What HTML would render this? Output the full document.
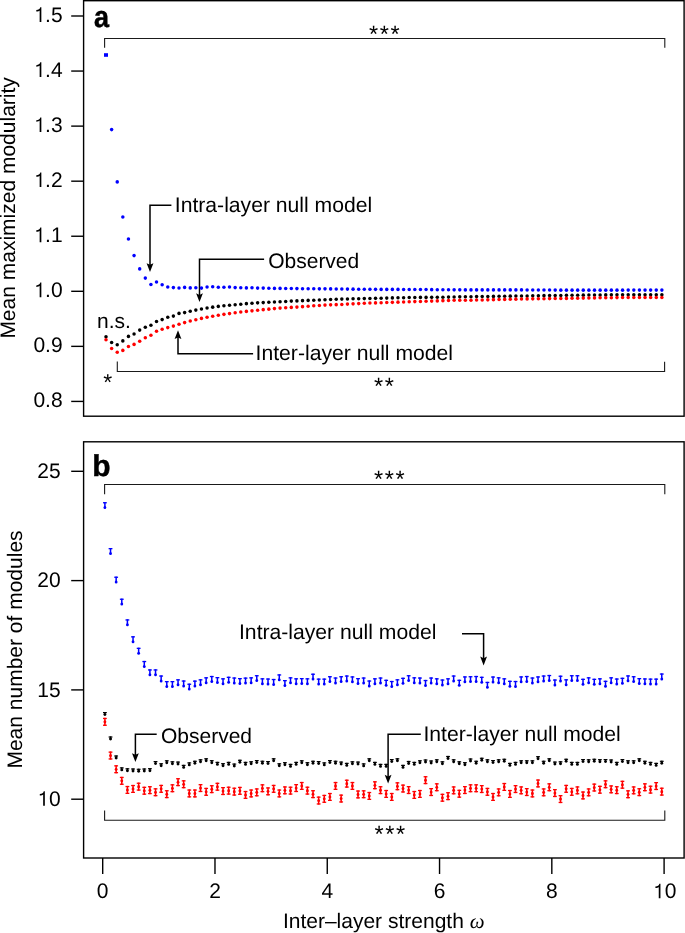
<!DOCTYPE html>
<html><head><meta charset="utf-8"><style>
html,body{margin:0;padding:0;background:#fff;}
svg{display:block;will-change:transform;text-rendering:geometricPrecision;}
</style></head><body>
<svg width="685" height="933" viewBox="0 0 685 933">
<rect width="685" height="933" fill="#fff"/>
<g font-family="'Liberation Sans', sans-serif" font-size="21" fill="#000">
<rect x="83.6" y="0.7" width="600.5" height="415.5" fill="none" stroke="#000" stroke-width="1.4"/>
<rect x="83.6" y="441.8" width="600.5" height="416.2" fill="none" stroke="#000" stroke-width="1.4"/>
<line x1="71.2" y1="16" x2="83.6" y2="16" stroke="#000" stroke-width="1.4"/>
<text x="62.6" y="21.9" text-anchor="end">.5</text>
<path d="M41.35 21.9V7.3H40.25C39.9 9 38.5 9.9 36.3 10.1V11.6C38 11.6 39.1 11.2 39.65 10.5V21.9Z"/>
<line x1="71.2" y1="71.06" x2="83.6" y2="71.06" stroke="#000" stroke-width="1.4"/>
<text x="62.6" y="76.96" text-anchor="end">.4</text>
<path d="M41.35 76.96V62.36H40.25C39.9 64.06 38.5 64.96 36.3 65.16V66.66C38 66.66 39.1 66.26 39.65 65.56V76.96Z"/>
<line x1="71.2" y1="126.12" x2="83.6" y2="126.12" stroke="#000" stroke-width="1.4"/>
<text x="62.6" y="132.02" text-anchor="end">.3</text>
<path d="M41.35 132.02V117.42H40.25C39.9 119.12 38.5 120.02 36.3 120.22V121.72C38 121.72 39.1 121.32 39.65 120.62V132.02Z"/>
<line x1="71.2" y1="181.18" x2="83.6" y2="181.18" stroke="#000" stroke-width="1.4"/>
<text x="62.6" y="187.08" text-anchor="end">.2</text>
<path d="M41.35 187.08V172.48H40.25C39.9 174.18 38.5 175.08 36.3 175.28V176.78C38 176.78 39.1 176.38 39.65 175.68V187.08Z"/>
<line x1="71.2" y1="236.24" x2="83.6" y2="236.24" stroke="#000" stroke-width="1.4"/>
<text x="62.6" y="242.14" text-anchor="end">.1</text>
<path d="M41.35 242.14V227.54H40.25C39.9 229.24 38.5 230.14 36.3 230.34V231.84C38 231.84 39.1 231.44 39.65 230.74V242.14Z"/>
<line x1="71.2" y1="291.3" x2="83.6" y2="291.3" stroke="#000" stroke-width="1.4"/>
<text x="62.6" y="297.2" text-anchor="end">.0</text>
<path d="M41.35 297.2V282.6H40.25C39.9 284.3 38.5 285.2 36.3 285.4V286.9C38 286.9 39.1 286.5 39.65 285.8V297.2Z"/>
<line x1="71.2" y1="346.36" x2="83.6" y2="346.36" stroke="#000" stroke-width="1.4"/>
<text x="62.6" y="352.26" text-anchor="end">0.9</text>
<line x1="71.2" y1="401.42" x2="83.6" y2="401.42" stroke="#000" stroke-width="1.4"/>
<text x="62.6" y="407.32" text-anchor="end">0.8</text>
<line x1="71.2" y1="471.3" x2="83.6" y2="471.3" stroke="#000" stroke-width="1.4"/>
<text x="60.6" y="477.9" text-anchor="end">25</text>
<line x1="71.2" y1="580.6" x2="83.6" y2="580.6" stroke="#000" stroke-width="1.4"/>
<text x="60.6" y="587.2" text-anchor="end">20</text>
<line x1="71.2" y1="689.9" x2="83.6" y2="689.9" stroke="#000" stroke-width="1.4"/>
<text x="60.6" y="696.5" text-anchor="end">15</text>
<line x1="71.2" y1="799.2" x2="83.6" y2="799.2" stroke="#000" stroke-width="1.4"/>
<text x="60.6" y="805.8" text-anchor="end">0</text>
<path d="M44.85 805.8V791.2H43.75C43.4 792.9 42 793.8 39.8 794V795.5C41.5 795.5 42.6 795.1 43.15 794.4V805.8Z"/>
<line x1="102.7" y1="858" x2="102.7" y2="874" stroke="#000" stroke-width="1.4"/>
<text x="102.7" y="898.3" text-anchor="middle">0</text>
<line x1="214.98" y1="858" x2="214.98" y2="874" stroke="#000" stroke-width="1.4"/>
<text x="214.98" y="898.3" text-anchor="middle">2</text>
<line x1="327.26" y1="858" x2="327.26" y2="874" stroke="#000" stroke-width="1.4"/>
<text x="327.26" y="898.3" text-anchor="middle">4</text>
<line x1="439.54" y1="858" x2="439.54" y2="874" stroke="#000" stroke-width="1.4"/>
<text x="439.54" y="898.3" text-anchor="middle">6</text>
<line x1="551.82" y1="858" x2="551.82" y2="874" stroke="#000" stroke-width="1.4"/>
<text x="551.82" y="898.3" text-anchor="middle">8</text>
<line x1="664.1" y1="858" x2="664.1" y2="874" stroke="#000" stroke-width="1.4"/>
<text x="664.8" y="898.3">0</text>
<path d="M660.45 898.3V883.7H659.35C659 885.4 657.6 886.3 655.4 886.5V888C657.1 888 658.2 887.6 658.75 886.9V898.3Z"/>
<text transform="translate(15.1,207.9) rotate(-90)" text-anchor="middle">Mean maximized modularity</text>
<text transform="translate(22.1,649.5) rotate(-90)" text-anchor="middle">Mean number of modules</text>
<text x="383.7" y="927.9" text-anchor="middle">Inter–layer strength <tspan font-family="&apos;Liberation Serif&apos;, serif" font-style="italic">ω</tspan></text>
<text transform="translate(94.1 26.8) scale(0.9 1)" font-weight="bold" font-size="30" stroke="#000" stroke-width="0.45">a</text>
<text x="92.3" y="475.8" font-weight="bold" font-size="30" stroke="#000" stroke-width="0.45">b</text>
<path d="M104.6 47.8V38.5H664.8V47.8" fill="none" stroke="#1a1a1a" stroke-width="1.1"/>
<path d="M117.3 361.5V371.5H664.6V361.8" fill="none" stroke="#1a1a1a" stroke-width="1.1"/>
<path d="M104.6 494.3V484.5H664.8V494.3" fill="none" stroke="#1a1a1a" stroke-width="1.1"/>
<path d="M104.6 810.6V820.2H664.8V810.6" fill="none" stroke="#1a1a1a" stroke-width="1.1"/>
<text x="369" y="42.4" font-size="23.5" letter-spacing="1.6">***</text>
<text x="374.1" y="487.2" font-size="23.5" letter-spacing="1.6">***</text>
<text x="374.4" y="842.3" font-size="23.5" letter-spacing="1.6">***</text>
<text x="103.2" y="389.8" font-size="23">*</text>
<text x="373.9" y="394.3" font-size="23.5" letter-spacing="1.6">**</text>
<text x="97" y="328.2">n.s.</text>
<path d="M171.4 205.2H150V266" fill="none" stroke="#000" stroke-width="1.5"/>
<path d="M150 272L146.6 263.2L150 264.8L153.4 263.2Z" fill="#000"/>
<text x="174.8" y="211.6" font-size="21.15">Intra-layer null model</text>
<path d="M264.1 259.3H199.5V296" fill="none" stroke="#000" stroke-width="1.5"/>
<path d="M199.5 302.1L196.1 293.3L199.5 294.9L202.9 293.3Z" fill="#000"/>
<text x="268.2" y="267.6">Observed</text>
<path d="M253.1 353.7H178V336" fill="none" stroke="#000" stroke-width="1.5"/>
<path d="M178 330.3L174.6 339.1L178 337.5L181.4 339.1Z" fill="#000"/>
<text x="255.6" y="359.8" font-size="21.15">Inter-layer null model</text>
<path d="M462 633.7H483.6V660" fill="none" stroke="#000" stroke-width="1.5"/>
<path d="M483.6 665.4L480.2 656.6L483.6 658.2L487 656.6Z" fill="#000"/>
<text x="239.0" y="638.8" font-size="21.15">Intra-layer null model</text>
<path d="M156.7 734.3H135.4V756" fill="none" stroke="#000" stroke-width="1.5"/>
<path d="M135.4 762L132 753.2L135.4 754.8L138.8 753.2Z" fill="#000"/>
<text x="161" y="743.1">Observed</text>
<path d="M420.8 734.3H388.1V778" fill="none" stroke="#000" stroke-width="1.5"/>
<path d="M388.1 783.6L384.7 774.8L388.1 776.4L391.5 774.8Z" fill="#000"/>
<text x="423.4" y="740.5" font-size="21.15">Inter-layer null model</text>
</g>
<g fill="#00f"><rect x="104" y="53.2" width="4" height="3.6"/><ellipse cx="111.61" cy="129.6" rx="1.75" ry="1.8"/><ellipse cx="117.23" cy="181.9" rx="1.75" ry="1.8"/><ellipse cx="122.84" cy="217" rx="1.75" ry="1.8"/><ellipse cx="128.46" cy="239" rx="1.75" ry="1.8"/><ellipse cx="134.07" cy="255.6" rx="1.75" ry="1.8"/><ellipse cx="139.69" cy="268.9" rx="1.75" ry="1.8"/><ellipse cx="145.31" cy="278.1" rx="1.75" ry="1.8"/><ellipse cx="150.92" cy="284.5" rx="1.75" ry="1.8"/><ellipse cx="156.53" cy="282" rx="1.75" ry="1.8"/><ellipse cx="162.15" cy="284.7" rx="1.75" ry="1.8"/><ellipse cx="167.76" cy="287" rx="1.75" ry="1.8"/><ellipse cx="173.38" cy="287.6" rx="1.75" ry="1.8"/><ellipse cx="179" cy="288" rx="1.75" ry="1.8"/><ellipse cx="184.61" cy="287.4" rx="1.75" ry="1.8"/><ellipse cx="190.23" cy="287.9" rx="1.75" ry="1.8"/><ellipse cx="195.84" cy="287.7" rx="1.75" ry="1.8"/><ellipse cx="201.45" cy="288.1" rx="1.75" ry="1.8"/><ellipse cx="207.07" cy="287" rx="1.75" ry="1.8"/><ellipse cx="212.69" cy="286.7" rx="1.75" ry="1.8"/><ellipse cx="218.3" cy="287.2" rx="1.75" ry="1.8"/><ellipse cx="223.92" cy="287.2" rx="1.75" ry="1.8"/><ellipse cx="229.53" cy="287" rx="1.75" ry="1.8"/><ellipse cx="235.15" cy="287.6" rx="1.75" ry="1.8"/><ellipse cx="240.76" cy="287.7" rx="1.75" ry="1.8"/><ellipse cx="246.38" cy="287.9" rx="1.75" ry="1.8"/><ellipse cx="251.99" cy="287.7" rx="1.75" ry="1.8"/><ellipse cx="257.61" cy="288.1" rx="1.75" ry="1.8"/><ellipse cx="263.22" cy="288.1" rx="1.75" ry="1.8"/><ellipse cx="268.84" cy="288.3" rx="1.75" ry="1.8"/><ellipse cx="274.45" cy="288.38" rx="1.75" ry="1.8"/><ellipse cx="280.06" cy="288.4" rx="1.75" ry="1.8"/><ellipse cx="285.68" cy="288.5" rx="1.75" ry="1.8"/><ellipse cx="291.3" cy="288.54" rx="1.75" ry="1.8"/><ellipse cx="296.91" cy="288.61" rx="1.75" ry="1.8"/><ellipse cx="302.52" cy="288.69" rx="1.75" ry="1.8"/><ellipse cx="308.14" cy="288.73" rx="1.75" ry="1.8"/><ellipse cx="313.75" cy="288.76" rx="1.75" ry="1.8"/><ellipse cx="319.37" cy="288.83" rx="1.75" ry="1.8"/><ellipse cx="324.99" cy="288.87" rx="1.75" ry="1.8"/><ellipse cx="330.6" cy="288.91" rx="1.75" ry="1.8"/><ellipse cx="336.22" cy="288.94" rx="1.75" ry="1.8"/><ellipse cx="341.83" cy="289" rx="1.75" ry="1.8"/><ellipse cx="347.45" cy="289.09" rx="1.75" ry="1.8"/><ellipse cx="353.06" cy="289.14" rx="1.75" ry="1.8"/><ellipse cx="358.68" cy="289.2" rx="1.75" ry="1.8"/><ellipse cx="364.29" cy="289.24" rx="1.75" ry="1.8"/><ellipse cx="369.91" cy="289.31" rx="1.75" ry="1.8"/><ellipse cx="375.52" cy="289.37" rx="1.75" ry="1.8"/><ellipse cx="381.13" cy="289.39" rx="1.75" ry="1.8"/><ellipse cx="386.75" cy="289.38" rx="1.75" ry="1.8"/><ellipse cx="392.37" cy="289.38" rx="1.75" ry="1.8"/><ellipse cx="397.98" cy="289.4" rx="1.75" ry="1.8"/><ellipse cx="403.6" cy="289.43" rx="1.75" ry="1.8"/><ellipse cx="409.21" cy="289.45" rx="1.75" ry="1.8"/><ellipse cx="414.82" cy="289.48" rx="1.75" ry="1.8"/><ellipse cx="420.44" cy="289.51" rx="1.75" ry="1.8"/><ellipse cx="426.06" cy="289.54" rx="1.75" ry="1.8"/><ellipse cx="431.67" cy="289.63" rx="1.75" ry="1.8"/><ellipse cx="437.29" cy="289.68" rx="1.75" ry="1.8"/><ellipse cx="442.9" cy="289.73" rx="1.75" ry="1.8"/><ellipse cx="448.51" cy="289.78" rx="1.75" ry="1.8"/><ellipse cx="454.13" cy="289.83" rx="1.75" ry="1.8"/><ellipse cx="459.75" cy="289.87" rx="1.75" ry="1.8"/><ellipse cx="465.36" cy="289.92" rx="1.75" ry="1.8"/><ellipse cx="470.98" cy="289.92" rx="1.75" ry="1.8"/><ellipse cx="476.59" cy="289.91" rx="1.75" ry="1.8"/><ellipse cx="482.21" cy="289.91" rx="1.75" ry="1.8"/><ellipse cx="487.82" cy="289.9" rx="1.75" ry="1.8"/><ellipse cx="493.44" cy="289.9" rx="1.75" ry="1.8"/><ellipse cx="499.05" cy="289.9" rx="1.75" ry="1.8"/><ellipse cx="504.67" cy="289.9" rx="1.75" ry="1.8"/><ellipse cx="510.28" cy="289.9" rx="1.75" ry="1.8"/><ellipse cx="515.89" cy="289.9" rx="1.75" ry="1.8"/><ellipse cx="521.51" cy="289.9" rx="1.75" ry="1.8"/><ellipse cx="527.12" cy="289.93" rx="1.75" ry="1.8"/><ellipse cx="532.74" cy="289.96" rx="1.75" ry="1.8"/><ellipse cx="538.36" cy="290" rx="1.75" ry="1.8"/><ellipse cx="543.97" cy="290.04" rx="1.75" ry="1.8"/><ellipse cx="549.59" cy="290.07" rx="1.75" ry="1.8"/><ellipse cx="555.2" cy="290.11" rx="1.75" ry="1.8"/><ellipse cx="560.82" cy="290.14" rx="1.75" ry="1.8"/><ellipse cx="566.43" cy="290.15" rx="1.75" ry="1.8"/><ellipse cx="572.05" cy="290.15" rx="1.75" ry="1.8"/><ellipse cx="577.66" cy="290.15" rx="1.75" ry="1.8"/><ellipse cx="583.28" cy="290.15" rx="1.75" ry="1.8"/><ellipse cx="588.89" cy="290.15" rx="1.75" ry="1.8"/><ellipse cx="594.5" cy="290.15" rx="1.75" ry="1.8"/><ellipse cx="600.12" cy="290.15" rx="1.75" ry="1.8"/><ellipse cx="605.74" cy="290.15" rx="1.75" ry="1.8"/><ellipse cx="611.35" cy="290.14" rx="1.75" ry="1.8"/><ellipse cx="616.97" cy="290.14" rx="1.75" ry="1.8"/><ellipse cx="622.58" cy="290.13" rx="1.75" ry="1.8"/><ellipse cx="628.2" cy="290.12" rx="1.75" ry="1.8"/><ellipse cx="633.81" cy="290.11" rx="1.75" ry="1.8"/><ellipse cx="639.43" cy="290.11" rx="1.75" ry="1.8"/><ellipse cx="645.04" cy="290.1" rx="1.75" ry="1.8"/><ellipse cx="650.65" cy="290.1" rx="1.75" ry="1.8"/><ellipse cx="656.27" cy="290.1" rx="1.75" ry="1.8"/><ellipse cx="661.88" cy="290.1" rx="1.75" ry="1.8"/></g>
<g fill="#000"><ellipse cx="106" cy="336.8" rx="1.75" ry="1.8"/><ellipse cx="111.61" cy="342.5" rx="1.75" ry="1.8"/><ellipse cx="117.23" cy="344.7" rx="1.75" ry="1.8"/><ellipse cx="122.84" cy="340.9" rx="1.75" ry="1.8"/><ellipse cx="128.46" cy="336.4" rx="1.75" ry="1.8"/><ellipse cx="134.07" cy="334" rx="1.75" ry="1.8"/><ellipse cx="139.69" cy="330.1" rx="1.75" ry="1.8"/><ellipse cx="145.31" cy="327.2" rx="1.75" ry="1.8"/><ellipse cx="150.92" cy="325.2" rx="1.75" ry="1.8"/><ellipse cx="156.53" cy="321.5" rx="1.75" ry="1.8"/><ellipse cx="162.15" cy="319.6" rx="1.75" ry="1.8"/><ellipse cx="167.76" cy="317.2" rx="1.75" ry="1.8"/><ellipse cx="173.38" cy="316.1" rx="1.75" ry="1.8"/><ellipse cx="179" cy="313.4" rx="1.75" ry="1.8"/><ellipse cx="184.61" cy="312.6" rx="1.75" ry="1.8"/><ellipse cx="190.23" cy="311.22" rx="1.75" ry="1.8"/><ellipse cx="195.84" cy="310.1" rx="1.75" ry="1.8"/><ellipse cx="201.45" cy="309.02" rx="1.75" ry="1.8"/><ellipse cx="207.07" cy="308.04" rx="1.75" ry="1.8"/><ellipse cx="212.69" cy="307.14" rx="1.75" ry="1.8"/><ellipse cx="218.3" cy="306.38" rx="1.75" ry="1.8"/><ellipse cx="223.92" cy="305.78" rx="1.75" ry="1.8"/><ellipse cx="229.53" cy="305.2" rx="1.75" ry="1.8"/><ellipse cx="235.15" cy="304.68" rx="1.75" ry="1.8"/><ellipse cx="240.76" cy="304.18" rx="1.75" ry="1.8"/><ellipse cx="246.38" cy="303.66" rx="1.75" ry="1.8"/><ellipse cx="251.99" cy="303.2" rx="1.75" ry="1.8"/><ellipse cx="257.61" cy="302.84" rx="1.75" ry="1.8"/><ellipse cx="263.22" cy="302.6" rx="1.75" ry="1.8"/><ellipse cx="268.84" cy="302.32" rx="1.75" ry="1.8"/><ellipse cx="274.45" cy="302.06" rx="1.75" ry="1.8"/><ellipse cx="280.06" cy="301.8" rx="1.75" ry="1.8"/><ellipse cx="285.68" cy="301.46" rx="1.75" ry="1.8"/><ellipse cx="291.3" cy="301.12" rx="1.75" ry="1.8"/><ellipse cx="296.91" cy="300.9" rx="1.75" ry="1.8"/><ellipse cx="302.52" cy="300.66" rx="1.75" ry="1.8"/><ellipse cx="308.14" cy="300.42" rx="1.75" ry="1.8"/><ellipse cx="313.75" cy="300.2" rx="1.75" ry="1.8"/><ellipse cx="319.37" cy="299.96" rx="1.75" ry="1.8"/><ellipse cx="324.99" cy="299.76" rx="1.75" ry="1.8"/><ellipse cx="330.6" cy="299.52" rx="1.75" ry="1.8"/><ellipse cx="336.22" cy="299.28" rx="1.75" ry="1.8"/><ellipse cx="341.83" cy="299.08" rx="1.75" ry="1.8"/><ellipse cx="347.45" cy="298.94" rx="1.75" ry="1.8"/><ellipse cx="353.06" cy="298.78" rx="1.75" ry="1.8"/><ellipse cx="358.68" cy="298.68" rx="1.75" ry="1.8"/><ellipse cx="364.29" cy="298.6" rx="1.75" ry="1.8"/><ellipse cx="369.91" cy="298.5" rx="1.75" ry="1.8"/><ellipse cx="375.52" cy="298.36" rx="1.75" ry="1.8"/><ellipse cx="381.13" cy="298.26" rx="1.75" ry="1.8"/><ellipse cx="386.75" cy="298.09" rx="1.75" ry="1.8"/><ellipse cx="392.37" cy="297.91" rx="1.75" ry="1.8"/><ellipse cx="397.98" cy="297.78" rx="1.75" ry="1.8"/><ellipse cx="403.6" cy="297.68" rx="1.75" ry="1.8"/><ellipse cx="409.21" cy="297.56" rx="1.75" ry="1.8"/><ellipse cx="414.82" cy="297.47" rx="1.75" ry="1.8"/><ellipse cx="420.44" cy="297.42" rx="1.75" ry="1.8"/><ellipse cx="426.06" cy="297.38" rx="1.75" ry="1.8"/><ellipse cx="431.67" cy="297.33" rx="1.75" ry="1.8"/><ellipse cx="437.29" cy="297.26" rx="1.75" ry="1.8"/><ellipse cx="442.9" cy="297.19" rx="1.75" ry="1.8"/><ellipse cx="448.51" cy="297.12" rx="1.75" ry="1.8"/><ellipse cx="454.13" cy="297" rx="1.75" ry="1.8"/><ellipse cx="459.75" cy="296.86" rx="1.75" ry="1.8"/><ellipse cx="465.36" cy="296.77" rx="1.75" ry="1.8"/><ellipse cx="470.98" cy="296.72" rx="1.75" ry="1.8"/><ellipse cx="476.59" cy="296.61" rx="1.75" ry="1.8"/><ellipse cx="482.21" cy="296.54" rx="1.75" ry="1.8"/><ellipse cx="487.82" cy="296.49" rx="1.75" ry="1.8"/><ellipse cx="493.44" cy="296.42" rx="1.75" ry="1.8"/><ellipse cx="499.05" cy="296.3" rx="1.75" ry="1.8"/><ellipse cx="504.67" cy="296.26" rx="1.75" ry="1.8"/><ellipse cx="510.28" cy="296.14" rx="1.75" ry="1.8"/><ellipse cx="515.89" cy="296.07" rx="1.75" ry="1.8"/><ellipse cx="521.51" cy="296" rx="1.75" ry="1.8"/><ellipse cx="527.12" cy="295.93" rx="1.75" ry="1.8"/><ellipse cx="532.74" cy="295.81" rx="1.75" ry="1.8"/><ellipse cx="538.36" cy="295.77" rx="1.75" ry="1.8"/><ellipse cx="543.97" cy="295.65" rx="1.75" ry="1.8"/><ellipse cx="549.59" cy="295.53" rx="1.75" ry="1.8"/><ellipse cx="555.2" cy="295.46" rx="1.75" ry="1.8"/><ellipse cx="560.82" cy="295.44" rx="1.75" ry="1.8"/><ellipse cx="566.43" cy="295.37" rx="1.75" ry="1.8"/><ellipse cx="572.05" cy="295.32" rx="1.75" ry="1.8"/><ellipse cx="577.66" cy="295.23" rx="1.75" ry="1.8"/><ellipse cx="583.28" cy="295.14" rx="1.75" ry="1.8"/><ellipse cx="588.89" cy="295.04" rx="1.75" ry="1.8"/><ellipse cx="594.5" cy="295" rx="1.75" ry="1.8"/><ellipse cx="600.12" cy="294.95" rx="1.75" ry="1.8"/><ellipse cx="605.74" cy="294.88" rx="1.75" ry="1.8"/><ellipse cx="611.35" cy="294.86" rx="1.75" ry="1.8"/><ellipse cx="616.97" cy="294.83" rx="1.75" ry="1.8"/><ellipse cx="622.58" cy="294.8" rx="1.75" ry="1.8"/><ellipse cx="628.2" cy="294.77" rx="1.75" ry="1.8"/><ellipse cx="633.81" cy="294.81" rx="1.75" ry="1.8"/><ellipse cx="639.43" cy="294.8" rx="1.75" ry="1.8"/><ellipse cx="645.04" cy="294.8" rx="1.75" ry="1.8"/><ellipse cx="650.65" cy="294.8" rx="1.75" ry="1.8"/><ellipse cx="656.27" cy="294.8" rx="1.75" ry="1.8"/><ellipse cx="661.88" cy="294.8" rx="1.75" ry="1.8"/></g>
<g fill="#f00"><ellipse cx="106" cy="339.7" rx="1.75" ry="1.8"/><ellipse cx="111.61" cy="348.5" rx="1.75" ry="1.8"/><ellipse cx="117.23" cy="352.2" rx="1.75" ry="1.8"/><ellipse cx="122.84" cy="350.4" rx="1.75" ry="1.8"/><ellipse cx="128.46" cy="346.5" rx="1.75" ry="1.8"/><ellipse cx="134.07" cy="344.4" rx="1.75" ry="1.8"/><ellipse cx="139.69" cy="341.2" rx="1.75" ry="1.8"/><ellipse cx="145.31" cy="337.7" rx="1.75" ry="1.8"/><ellipse cx="150.92" cy="335.2" rx="1.75" ry="1.8"/><ellipse cx="156.53" cy="331.3" rx="1.75" ry="1.8"/><ellipse cx="162.15" cy="329.3" rx="1.75" ry="1.8"/><ellipse cx="167.76" cy="327.6" rx="1.75" ry="1.8"/><ellipse cx="173.38" cy="326.1" rx="1.75" ry="1.8"/><ellipse cx="179" cy="324.2" rx="1.75" ry="1.8"/><ellipse cx="184.61" cy="322.58" rx="1.75" ry="1.8"/><ellipse cx="190.23" cy="321.04" rx="1.75" ry="1.8"/><ellipse cx="195.84" cy="319.68" rx="1.75" ry="1.8"/><ellipse cx="201.45" cy="318.4" rx="1.75" ry="1.8"/><ellipse cx="207.07" cy="317.26" rx="1.75" ry="1.8"/><ellipse cx="212.69" cy="316.26" rx="1.75" ry="1.8"/><ellipse cx="218.3" cy="315.26" rx="1.75" ry="1.8"/><ellipse cx="223.92" cy="314.36" rx="1.75" ry="1.8"/><ellipse cx="229.53" cy="313.6" rx="1.75" ry="1.8"/><ellipse cx="235.15" cy="312.78" rx="1.75" ry="1.8"/><ellipse cx="240.76" cy="312" rx="1.75" ry="1.8"/><ellipse cx="246.38" cy="311.42" rx="1.75" ry="1.8"/><ellipse cx="251.99" cy="310.84" rx="1.75" ry="1.8"/><ellipse cx="257.61" cy="310.2" rx="1.75" ry="1.8"/><ellipse cx="263.22" cy="309.64" rx="1.75" ry="1.8"/><ellipse cx="268.84" cy="309.14" rx="1.75" ry="1.8"/><ellipse cx="274.45" cy="308.6" rx="1.75" ry="1.8"/><ellipse cx="280.06" cy="308.12" rx="1.75" ry="1.8"/><ellipse cx="285.68" cy="307.74" rx="1.75" ry="1.8"/><ellipse cx="291.3" cy="307.38" rx="1.75" ry="1.8"/><ellipse cx="296.91" cy="307.08" rx="1.75" ry="1.8"/><ellipse cx="302.52" cy="306.64" rx="1.75" ry="1.8"/><ellipse cx="308.14" cy="306.2" rx="1.75" ry="1.8"/><ellipse cx="313.75" cy="305.82" rx="1.75" ry="1.8"/><ellipse cx="319.37" cy="305.52" rx="1.75" ry="1.8"/><ellipse cx="324.99" cy="305.12" rx="1.75" ry="1.8"/><ellipse cx="330.6" cy="304.86" rx="1.75" ry="1.8"/><ellipse cx="336.22" cy="304.64" rx="1.75" ry="1.8"/><ellipse cx="341.83" cy="304.44" rx="1.75" ry="1.8"/><ellipse cx="347.45" cy="304.12" rx="1.75" ry="1.8"/><ellipse cx="353.06" cy="303.86" rx="1.75" ry="1.8"/><ellipse cx="358.68" cy="303.6" rx="1.75" ry="1.8"/><ellipse cx="364.29" cy="303.32" rx="1.75" ry="1.8"/><ellipse cx="369.91" cy="303.06" rx="1.75" ry="1.8"/><ellipse cx="375.52" cy="302.88" rx="1.75" ry="1.8"/><ellipse cx="381.13" cy="302.7" rx="1.75" ry="1.8"/><ellipse cx="386.75" cy="302.54" rx="1.75" ry="1.8"/><ellipse cx="392.37" cy="302.33" rx="1.75" ry="1.8"/><ellipse cx="397.98" cy="302.13" rx="1.75" ry="1.8"/><ellipse cx="403.6" cy="301.95" rx="1.75" ry="1.8"/><ellipse cx="409.21" cy="301.77" rx="1.75" ry="1.8"/><ellipse cx="414.82" cy="301.61" rx="1.75" ry="1.8"/><ellipse cx="420.44" cy="301.44" rx="1.75" ry="1.8"/><ellipse cx="426.06" cy="301.28" rx="1.75" ry="1.8"/><ellipse cx="431.67" cy="301.09" rx="1.75" ry="1.8"/><ellipse cx="437.29" cy="300.91" rx="1.75" ry="1.8"/><ellipse cx="442.9" cy="300.67" rx="1.75" ry="1.8"/><ellipse cx="448.51" cy="300.51" rx="1.75" ry="1.8"/><ellipse cx="454.13" cy="300.32" rx="1.75" ry="1.8"/><ellipse cx="459.75" cy="300.2" rx="1.75" ry="1.8"/><ellipse cx="465.36" cy="300.2" rx="1.75" ry="1.8"/><ellipse cx="470.98" cy="300.18" rx="1.75" ry="1.8"/><ellipse cx="476.59" cy="300.06" rx="1.75" ry="1.8"/><ellipse cx="482.21" cy="299.97" rx="1.75" ry="1.8"/><ellipse cx="487.82" cy="299.85" rx="1.75" ry="1.8"/><ellipse cx="493.44" cy="299.67" rx="1.75" ry="1.8"/><ellipse cx="499.05" cy="299.5" rx="1.75" ry="1.8"/><ellipse cx="504.67" cy="299.39" rx="1.75" ry="1.8"/><ellipse cx="510.28" cy="299.27" rx="1.75" ry="1.8"/><ellipse cx="515.89" cy="299.15" rx="1.75" ry="1.8"/><ellipse cx="521.51" cy="299.04" rx="1.75" ry="1.8"/><ellipse cx="527.12" cy="298.92" rx="1.75" ry="1.8"/><ellipse cx="532.74" cy="298.85" rx="1.75" ry="1.8"/><ellipse cx="538.36" cy="298.78" rx="1.75" ry="1.8"/><ellipse cx="543.97" cy="298.73" rx="1.75" ry="1.8"/><ellipse cx="549.59" cy="298.62" rx="1.75" ry="1.8"/><ellipse cx="555.2" cy="298.55" rx="1.75" ry="1.8"/><ellipse cx="560.82" cy="298.48" rx="1.75" ry="1.8"/><ellipse cx="566.43" cy="298.41" rx="1.75" ry="1.8"/><ellipse cx="572.05" cy="298.29" rx="1.75" ry="1.8"/><ellipse cx="577.66" cy="298.2" rx="1.75" ry="1.8"/><ellipse cx="583.28" cy="298.1" rx="1.75" ry="1.8"/><ellipse cx="588.89" cy="298.01" rx="1.75" ry="1.8"/><ellipse cx="594.5" cy="297.89" rx="1.75" ry="1.8"/><ellipse cx="600.12" cy="297.82" rx="1.75" ry="1.8"/><ellipse cx="605.74" cy="297.75" rx="1.75" ry="1.8"/><ellipse cx="611.35" cy="297.68" rx="1.75" ry="1.8"/><ellipse cx="616.97" cy="297.61" rx="1.75" ry="1.8"/><ellipse cx="622.58" cy="297.56" rx="1.75" ry="1.8"/><ellipse cx="628.2" cy="297.51" rx="1.75" ry="1.8"/><ellipse cx="633.81" cy="297.5" rx="1.75" ry="1.8"/><ellipse cx="639.43" cy="297.5" rx="1.75" ry="1.8"/><ellipse cx="645.04" cy="297.5" rx="1.75" ry="1.8"/><ellipse cx="650.65" cy="297.5" rx="1.75" ry="1.8"/><ellipse cx="656.27" cy="297.5" rx="1.75" ry="1.8"/><ellipse cx="661.88" cy="297.5" rx="1.75" ry="1.8"/></g>
<g fill="#00f"><rect x="103" y="502.1" width="3.8" height="1.3"/><rect x="104.15" y="502.1" width="1.5" height="5.5"/><ellipse cx="104.9" cy="507.6" rx="1.4" ry="1.5"/><rect x="108.62" y="548" width="3.8" height="1.3"/><rect x="109.78" y="548" width="1.5" height="5.5"/><ellipse cx="110.53" cy="553.5" rx="1.4" ry="1.5"/><rect x="114.25" y="576.6" width="3.8" height="1.3"/><rect x="115.4" y="576.6" width="1.5" height="5.5"/><ellipse cx="116.15" cy="582.1" rx="1.4" ry="1.5"/><rect x="119.88" y="598.6" width="3.8" height="1.3"/><rect x="121.03" y="598.6" width="1.5" height="5.5"/><ellipse cx="121.78" cy="604.1" rx="1.4" ry="1.5"/><rect x="125.5" y="619.3" width="3.8" height="1.3"/><rect x="126.65" y="619.3" width="1.5" height="5.5"/><ellipse cx="127.4" cy="624.8" rx="1.4" ry="1.5"/><rect x="131.12" y="636.2" width="3.8" height="1.3"/><rect x="132.28" y="636.2" width="1.5" height="5.5"/><ellipse cx="133.03" cy="641.7" rx="1.4" ry="1.5"/><rect x="136.75" y="647.7" width="3.8" height="1.3"/><rect x="137.9" y="647.7" width="1.5" height="5.5"/><ellipse cx="138.65" cy="653.2" rx="1.4" ry="1.5"/><rect x="142.38" y="660.9" width="3.8" height="1.3"/><rect x="143.53" y="660.9" width="1.5" height="5.5"/><ellipse cx="144.28" cy="666.4" rx="1.4" ry="1.5"/><rect x="148" y="669.3" width="3.8" height="1.3"/><rect x="149.15" y="669.3" width="1.5" height="5.5"/><ellipse cx="149.9" cy="674.8" rx="1.4" ry="1.5"/><rect x="153.62" y="669.3" width="3.8" height="1.3"/><rect x="154.78" y="669.3" width="1.5" height="5.5"/><ellipse cx="155.53" cy="674.8" rx="1.4" ry="1.5"/><rect x="159.25" y="675.4" width="3.8" height="1.3"/><rect x="160.4" y="675.4" width="1.5" height="5.5"/><ellipse cx="161.15" cy="680.9" rx="1.4" ry="1.5"/><rect x="164.88" y="681" width="3.8" height="1.3"/><rect x="166.03" y="681" width="1.5" height="5.5"/><ellipse cx="166.78" cy="686.5" rx="1.4" ry="1.5"/><rect x="170.5" y="681" width="3.8" height="1.3"/><rect x="171.65" y="681" width="1.5" height="5.5"/><ellipse cx="172.4" cy="686.5" rx="1.4" ry="1.5"/><rect x="176.12" y="679.2" width="3.8" height="1.3"/><rect x="177.28" y="679.2" width="1.5" height="5.5"/><ellipse cx="178.03" cy="684.7" rx="1.4" ry="1.5"/><rect x="181.75" y="680.4" width="3.8" height="1.3"/><rect x="182.9" y="680.4" width="1.5" height="5.5"/><ellipse cx="183.65" cy="685.9" rx="1.4" ry="1.5"/><rect x="187.38" y="683.6" width="3.8" height="1.3"/><rect x="188.53" y="683.6" width="1.5" height="5.5"/><ellipse cx="189.28" cy="689.1" rx="1.4" ry="1.5"/><rect x="193" y="680.5" width="3.8" height="1.3"/><rect x="194.15" y="680.5" width="1.5" height="5.5"/><ellipse cx="194.9" cy="686" rx="1.4" ry="1.5"/><rect x="198.62" y="679.2" width="3.8" height="1.3"/><rect x="199.78" y="679.2" width="1.5" height="5.5"/><ellipse cx="200.53" cy="684.7" rx="1.4" ry="1.5"/><rect x="204.25" y="677.2" width="3.8" height="1.3"/><rect x="205.4" y="677.2" width="1.5" height="5.5"/><ellipse cx="206.15" cy="682.7" rx="1.4" ry="1.5"/><rect x="209.88" y="675.9" width="3.8" height="1.3"/><rect x="211.03" y="675.9" width="1.5" height="5.5"/><ellipse cx="211.78" cy="681.4" rx="1.4" ry="1.5"/><rect x="215.5" y="677" width="3.8" height="1.3"/><rect x="216.65" y="677" width="1.5" height="5.5"/><ellipse cx="217.4" cy="682.5" rx="1.4" ry="1.5"/><rect x="221.12" y="678.2" width="3.8" height="1.3"/><rect x="222.28" y="678.2" width="1.5" height="5.5"/><ellipse cx="223.03" cy="683.7" rx="1.4" ry="1.5"/><rect x="226.75" y="676.7" width="3.8" height="1.3"/><rect x="227.9" y="676.7" width="1.5" height="5.5"/><ellipse cx="228.65" cy="682.2" rx="1.4" ry="1.5"/><rect x="232.38" y="677.4" width="3.8" height="1.3"/><rect x="233.53" y="677.4" width="1.5" height="5.5"/><ellipse cx="234.28" cy="682.9" rx="1.4" ry="1.5"/><rect x="238" y="678" width="3.8" height="1.3"/><rect x="239.15" y="678" width="1.5" height="5.5"/><ellipse cx="239.9" cy="683.5" rx="1.4" ry="1.5"/><rect x="243.62" y="677.5" width="3.8" height="1.3"/><rect x="244.78" y="677.5" width="1.5" height="5.5"/><ellipse cx="245.53" cy="683" rx="1.4" ry="1.5"/><rect x="249.25" y="677.2" width="3.8" height="1.3"/><rect x="250.4" y="677.2" width="1.5" height="5.5"/><ellipse cx="251.15" cy="682.7" rx="1.4" ry="1.5"/><rect x="254.87" y="675.1" width="3.8" height="1.3"/><rect x="256.02" y="675.1" width="1.5" height="5.5"/><ellipse cx="256.77" cy="680.6" rx="1.4" ry="1.5"/><rect x="260.5" y="678.2" width="3.8" height="1.3"/><rect x="261.65" y="678.2" width="1.5" height="5.5"/><ellipse cx="262.4" cy="683.7" rx="1.4" ry="1.5"/><rect x="266.12" y="678.4" width="3.8" height="1.3"/><rect x="267.27" y="678.4" width="1.5" height="5.5"/><ellipse cx="268.02" cy="683.9" rx="1.4" ry="1.5"/><rect x="271.75" y="678.9" width="3.8" height="1.3"/><rect x="272.9" y="678.9" width="1.5" height="5.5"/><ellipse cx="273.65" cy="684.4" rx="1.4" ry="1.5"/><rect x="277.38" y="674.3" width="3.8" height="1.3"/><rect x="278.52" y="674.3" width="1.5" height="5.5"/><ellipse cx="279.27" cy="679.8" rx="1.4" ry="1.5"/><rect x="283" y="680" width="3.8" height="1.3"/><rect x="284.15" y="680" width="1.5" height="5.5"/><ellipse cx="284.9" cy="685.5" rx="1.4" ry="1.5"/><rect x="288.62" y="677.2" width="3.8" height="1.3"/><rect x="289.77" y="677.2" width="1.5" height="5.5"/><ellipse cx="290.52" cy="682.7" rx="1.4" ry="1.5"/><rect x="294.25" y="678.2" width="3.8" height="1.3"/><rect x="295.4" y="678.2" width="1.5" height="5.5"/><ellipse cx="296.15" cy="683.7" rx="1.4" ry="1.5"/><rect x="299.88" y="678" width="3.8" height="1.3"/><rect x="301.02" y="678" width="1.5" height="5.5"/><ellipse cx="301.77" cy="683.5" rx="1.4" ry="1.5"/><rect x="305.5" y="678.2" width="3.8" height="1.3"/><rect x="306.65" y="678.2" width="1.5" height="5.5"/><ellipse cx="307.4" cy="683.7" rx="1.4" ry="1.5"/><rect x="311.12" y="673.6" width="3.8" height="1.3"/><rect x="312.27" y="673.6" width="1.5" height="5.5"/><ellipse cx="313.02" cy="679.1" rx="1.4" ry="1.5"/><rect x="316.75" y="678.5" width="3.8" height="1.3"/><rect x="317.9" y="678.5" width="1.5" height="5.5"/><ellipse cx="318.65" cy="684" rx="1.4" ry="1.5"/><rect x="322.38" y="678.5" width="3.8" height="1.3"/><rect x="323.52" y="678.5" width="1.5" height="5.5"/><ellipse cx="324.27" cy="684" rx="1.4" ry="1.5"/><rect x="328" y="676.1" width="3.8" height="1.3"/><rect x="329.15" y="676.1" width="1.5" height="5.5"/><ellipse cx="329.9" cy="681.6" rx="1.4" ry="1.5"/><rect x="333.62" y="677.4" width="3.8" height="1.3"/><rect x="334.77" y="677.4" width="1.5" height="5.5"/><ellipse cx="335.52" cy="682.9" rx="1.4" ry="1.5"/><rect x="339.25" y="676.1" width="3.8" height="1.3"/><rect x="340.4" y="676.1" width="1.5" height="5.5"/><ellipse cx="341.15" cy="681.6" rx="1.4" ry="1.5"/><rect x="344.88" y="675.4" width="3.8" height="1.3"/><rect x="346.02" y="675.4" width="1.5" height="5.5"/><ellipse cx="346.77" cy="680.9" rx="1.4" ry="1.5"/><rect x="350.5" y="676.3" width="3.8" height="1.3"/><rect x="351.65" y="676.3" width="1.5" height="5.5"/><ellipse cx="352.4" cy="681.8" rx="1.4" ry="1.5"/><rect x="356.12" y="678" width="3.8" height="1.3"/><rect x="357.27" y="678" width="1.5" height="5.5"/><ellipse cx="358.02" cy="683.5" rx="1.4" ry="1.5"/><rect x="361.75" y="677.4" width="3.8" height="1.3"/><rect x="362.9" y="677.4" width="1.5" height="5.5"/><ellipse cx="363.65" cy="682.9" rx="1.4" ry="1.5"/><rect x="367.38" y="680.4" width="3.8" height="1.3"/><rect x="368.52" y="680.4" width="1.5" height="5.5"/><ellipse cx="369.27" cy="685.9" rx="1.4" ry="1.5"/><rect x="373" y="678.2" width="3.8" height="1.3"/><rect x="374.15" y="678.2" width="1.5" height="5.5"/><ellipse cx="374.9" cy="683.7" rx="1.4" ry="1.5"/><rect x="378.62" y="677.4" width="3.8" height="1.3"/><rect x="379.77" y="677.4" width="1.5" height="5.5"/><ellipse cx="380.52" cy="682.9" rx="1.4" ry="1.5"/><rect x="384.25" y="679.7" width="3.8" height="1.3"/><rect x="385.4" y="679.7" width="1.5" height="5.5"/><ellipse cx="386.15" cy="685.2" rx="1.4" ry="1.5"/><rect x="389.88" y="680.9" width="3.8" height="1.3"/><rect x="391.02" y="680.9" width="1.5" height="5.5"/><ellipse cx="391.77" cy="686.4" rx="1.4" ry="1.5"/><rect x="395.5" y="679.2" width="3.8" height="1.3"/><rect x="396.65" y="679.2" width="1.5" height="5.5"/><ellipse cx="397.4" cy="684.7" rx="1.4" ry="1.5"/><rect x="401.12" y="677.7" width="3.8" height="1.3"/><rect x="402.27" y="677.7" width="1.5" height="5.5"/><ellipse cx="403.02" cy="683.2" rx="1.4" ry="1.5"/><rect x="406.75" y="675.1" width="3.8" height="1.3"/><rect x="407.9" y="675.1" width="1.5" height="5.5"/><ellipse cx="408.65" cy="680.6" rx="1.4" ry="1.5"/><rect x="412.38" y="677.2" width="3.8" height="1.3"/><rect x="413.52" y="677.2" width="1.5" height="5.5"/><ellipse cx="414.27" cy="682.7" rx="1.4" ry="1.5"/><rect x="418" y="677.4" width="3.8" height="1.3"/><rect x="419.15" y="677.4" width="1.5" height="5.5"/><ellipse cx="419.9" cy="682.9" rx="1.4" ry="1.5"/><rect x="423.62" y="679.9" width="3.8" height="1.3"/><rect x="424.77" y="679.9" width="1.5" height="5.5"/><ellipse cx="425.52" cy="685.4" rx="1.4" ry="1.5"/><rect x="429.25" y="677.4" width="3.8" height="1.3"/><rect x="430.4" y="677.4" width="1.5" height="5.5"/><ellipse cx="431.15" cy="682.9" rx="1.4" ry="1.5"/><rect x="434.88" y="678.2" width="3.8" height="1.3"/><rect x="436.02" y="678.2" width="1.5" height="5.5"/><ellipse cx="436.77" cy="683.7" rx="1.4" ry="1.5"/><rect x="440.5" y="679.4" width="3.8" height="1.3"/><rect x="441.65" y="679.4" width="1.5" height="5.5"/><ellipse cx="442.4" cy="684.9" rx="1.4" ry="1.5"/><rect x="446.12" y="678.2" width="3.8" height="1.3"/><rect x="447.27" y="678.2" width="1.5" height="5.5"/><ellipse cx="448.02" cy="683.7" rx="1.4" ry="1.5"/><rect x="451.75" y="675.4" width="3.8" height="1.3"/><rect x="452.9" y="675.4" width="1.5" height="5.5"/><ellipse cx="453.65" cy="680.9" rx="1.4" ry="1.5"/><rect x="457.38" y="679.7" width="3.8" height="1.3"/><rect x="458.52" y="679.7" width="1.5" height="5.5"/><ellipse cx="459.27" cy="685.2" rx="1.4" ry="1.5"/><rect x="463" y="676.3" width="3.8" height="1.3"/><rect x="464.15" y="676.3" width="1.5" height="5.5"/><ellipse cx="464.9" cy="681.8" rx="1.4" ry="1.5"/><rect x="468.62" y="676.1" width="3.8" height="1.3"/><rect x="469.77" y="676.1" width="1.5" height="5.5"/><ellipse cx="470.52" cy="681.6" rx="1.4" ry="1.5"/><rect x="474.25" y="675.9" width="3.8" height="1.3"/><rect x="475.4" y="675.9" width="1.5" height="5.5"/><ellipse cx="476.15" cy="681.4" rx="1.4" ry="1.5"/><rect x="479.88" y="676.7" width="3.8" height="1.3"/><rect x="481.02" y="676.7" width="1.5" height="5.5"/><ellipse cx="481.77" cy="682.2" rx="1.4" ry="1.5"/><rect x="485.5" y="681.8" width="3.8" height="1.3"/><rect x="486.65" y="681.8" width="1.5" height="5.5"/><ellipse cx="487.4" cy="687.3" rx="1.4" ry="1.5"/><rect x="491.12" y="676.4" width="3.8" height="1.3"/><rect x="492.27" y="676.4" width="1.5" height="5.5"/><ellipse cx="493.02" cy="681.9" rx="1.4" ry="1.5"/><rect x="496.75" y="677.2" width="3.8" height="1.3"/><rect x="497.9" y="677.2" width="1.5" height="5.5"/><ellipse cx="498.65" cy="682.7" rx="1.4" ry="1.5"/><rect x="502.38" y="678.2" width="3.8" height="1.3"/><rect x="503.52" y="678.2" width="1.5" height="5.5"/><ellipse cx="504.27" cy="683.7" rx="1.4" ry="1.5"/><rect x="508" y="680.7" width="3.8" height="1.3"/><rect x="509.15" y="680.7" width="1.5" height="5.5"/><ellipse cx="509.9" cy="686.2" rx="1.4" ry="1.5"/><rect x="513.62" y="680.9" width="3.8" height="1.3"/><rect x="514.77" y="680.9" width="1.5" height="5.5"/><ellipse cx="515.52" cy="686.4" rx="1.4" ry="1.5"/><rect x="519.25" y="676.3" width="3.8" height="1.3"/><rect x="520.4" y="676.3" width="1.5" height="5.5"/><ellipse cx="521.15" cy="681.8" rx="1.4" ry="1.5"/><rect x="524.88" y="675.9" width="3.8" height="1.3"/><rect x="526.02" y="675.9" width="1.5" height="5.5"/><ellipse cx="526.77" cy="681.4" rx="1.4" ry="1.5"/><rect x="530.5" y="677.4" width="3.8" height="1.3"/><rect x="531.65" y="677.4" width="1.5" height="5.5"/><ellipse cx="532.4" cy="682.9" rx="1.4" ry="1.5"/><rect x="536.12" y="676.3" width="3.8" height="1.3"/><rect x="537.27" y="676.3" width="1.5" height="5.5"/><ellipse cx="538.02" cy="681.8" rx="1.4" ry="1.5"/><rect x="541.75" y="675.4" width="3.8" height="1.3"/><rect x="542.9" y="675.4" width="1.5" height="5.5"/><ellipse cx="543.65" cy="680.9" rx="1.4" ry="1.5"/><rect x="547.38" y="674.9" width="3.8" height="1.3"/><rect x="548.52" y="674.9" width="1.5" height="5.5"/><ellipse cx="549.27" cy="680.4" rx="1.4" ry="1.5"/><rect x="553" y="679.4" width="3.8" height="1.3"/><rect x="554.15" y="679.4" width="1.5" height="5.5"/><ellipse cx="554.9" cy="684.9" rx="1.4" ry="1.5"/><rect x="558.62" y="675.6" width="3.8" height="1.3"/><rect x="559.77" y="675.6" width="1.5" height="5.5"/><ellipse cx="560.52" cy="681.1" rx="1.4" ry="1.5"/><rect x="564.25" y="679.2" width="3.8" height="1.3"/><rect x="565.4" y="679.2" width="1.5" height="5.5"/><ellipse cx="566.15" cy="684.7" rx="1.4" ry="1.5"/><rect x="569.88" y="675.1" width="3.8" height="1.3"/><rect x="571.02" y="675.1" width="1.5" height="5.5"/><ellipse cx="571.77" cy="680.6" rx="1.4" ry="1.5"/><rect x="575.5" y="675.1" width="3.8" height="1.3"/><rect x="576.65" y="675.1" width="1.5" height="5.5"/><ellipse cx="577.4" cy="680.6" rx="1.4" ry="1.5"/><rect x="581.12" y="678.7" width="3.8" height="1.3"/><rect x="582.27" y="678.7" width="1.5" height="5.5"/><ellipse cx="583.02" cy="684.2" rx="1.4" ry="1.5"/><rect x="586.75" y="677.2" width="3.8" height="1.3"/><rect x="587.9" y="677.2" width="1.5" height="5.5"/><ellipse cx="588.65" cy="682.7" rx="1.4" ry="1.5"/><rect x="592.38" y="678.7" width="3.8" height="1.3"/><rect x="593.52" y="678.7" width="1.5" height="5.5"/><ellipse cx="594.27" cy="684.2" rx="1.4" ry="1.5"/><rect x="598" y="678.2" width="3.8" height="1.3"/><rect x="599.15" y="678.2" width="1.5" height="5.5"/><ellipse cx="599.9" cy="683.7" rx="1.4" ry="1.5"/><rect x="603.62" y="680.7" width="3.8" height="1.3"/><rect x="604.77" y="680.7" width="1.5" height="5.5"/><ellipse cx="605.52" cy="686.2" rx="1.4" ry="1.5"/><rect x="609.25" y="677.2" width="3.8" height="1.3"/><rect x="610.4" y="677.2" width="1.5" height="5.5"/><ellipse cx="611.15" cy="682.7" rx="1.4" ry="1.5"/><rect x="614.88" y="678.4" width="3.8" height="1.3"/><rect x="616.02" y="678.4" width="1.5" height="5.5"/><ellipse cx="616.77" cy="683.9" rx="1.4" ry="1.5"/><rect x="620.5" y="677.7" width="3.8" height="1.3"/><rect x="621.65" y="677.7" width="1.5" height="5.5"/><ellipse cx="622.4" cy="683.2" rx="1.4" ry="1.5"/><rect x="626.12" y="675.3" width="3.8" height="1.3"/><rect x="627.27" y="675.3" width="1.5" height="5.5"/><ellipse cx="628.02" cy="680.8" rx="1.4" ry="1.5"/><rect x="631.75" y="676.1" width="3.8" height="1.3"/><rect x="632.9" y="676.1" width="1.5" height="5.5"/><ellipse cx="633.65" cy="681.6" rx="1.4" ry="1.5"/><rect x="637.38" y="678" width="3.8" height="1.3"/><rect x="638.52" y="678" width="1.5" height="5.5"/><ellipse cx="639.27" cy="683.5" rx="1.4" ry="1.5"/><rect x="643" y="678.3" width="3.8" height="1.3"/><rect x="644.15" y="678.3" width="1.5" height="5.5"/><ellipse cx="644.9" cy="683.8" rx="1.4" ry="1.5"/><rect x="648.62" y="678.5" width="3.8" height="1.3"/><rect x="649.77" y="678.5" width="1.5" height="5.5"/><ellipse cx="650.52" cy="684" rx="1.4" ry="1.5"/><rect x="654.25" y="678.5" width="3.8" height="1.3"/><rect x="655.4" y="678.5" width="1.5" height="5.5"/><ellipse cx="656.15" cy="684" rx="1.4" ry="1.5"/><rect x="659.88" y="673.4" width="3.8" height="1.3"/><rect x="661.02" y="673.4" width="1.5" height="5.5"/><ellipse cx="661.77" cy="678.9" rx="1.4" ry="1.5"/></g>
<g fill="#000"><rect x="103" y="712" width="3.8" height="1.2"/><rect x="104.2" y="712" width="1.4" height="2.6"/><ellipse cx="104.9" cy="714.6" rx="1.45" ry="1.45"/><rect x="108.62" y="736.4" width="3.8" height="1.2"/><rect x="109.83" y="736.4" width="1.4" height="2.6"/><ellipse cx="110.53" cy="739" rx="1.45" ry="1.45"/><rect x="114.25" y="755.4" width="3.8" height="1.2"/><rect x="115.45" y="755.4" width="1.4" height="2.6"/><ellipse cx="116.15" cy="758" rx="1.45" ry="1.45"/><rect x="119.88" y="767.3" width="3.8" height="1.2"/><rect x="121.08" y="767.3" width="1.4" height="2.6"/><ellipse cx="121.78" cy="769.9" rx="1.45" ry="1.45"/><rect x="125.5" y="768.2" width="3.8" height="1.2"/><rect x="126.7" y="768.2" width="1.4" height="2.6"/><ellipse cx="127.4" cy="770.8" rx="1.45" ry="1.45"/><rect x="131.12" y="768.4" width="3.8" height="1.2"/><rect x="132.33" y="768.4" width="1.4" height="2.6"/><ellipse cx="133.03" cy="771" rx="1.45" ry="1.45"/><rect x="136.75" y="768.7" width="3.8" height="1.2"/><rect x="137.95" y="768.7" width="1.4" height="2.6"/><ellipse cx="138.65" cy="771.3" rx="1.45" ry="1.45"/><rect x="142.38" y="768.4" width="3.8" height="1.2"/><rect x="143.58" y="768.4" width="1.4" height="2.6"/><ellipse cx="144.28" cy="771" rx="1.45" ry="1.45"/><rect x="148" y="768.1" width="3.8" height="1.2"/><rect x="149.2" y="768.1" width="1.4" height="2.6"/><ellipse cx="149.9" cy="770.7" rx="1.45" ry="1.45"/><rect x="153.62" y="761" width="3.8" height="1.2"/><rect x="154.83" y="761" width="1.4" height="2.6"/><ellipse cx="155.53" cy="763.6" rx="1.45" ry="1.45"/><rect x="159.25" y="763.2" width="3.8" height="1.2"/><rect x="160.45" y="763.2" width="1.4" height="2.6"/><ellipse cx="161.15" cy="765.8" rx="1.45" ry="1.45"/><rect x="164.88" y="760.2" width="3.8" height="1.2"/><rect x="166.08" y="760.2" width="1.4" height="2.6"/><ellipse cx="166.78" cy="762.8" rx="1.45" ry="1.45"/><rect x="170.5" y="761.2" width="3.8" height="1.2"/><rect x="171.7" y="761.2" width="1.4" height="2.6"/><ellipse cx="172.4" cy="763.8" rx="1.45" ry="1.45"/><rect x="176.12" y="761.5" width="3.8" height="1.2"/><rect x="177.33" y="761.5" width="1.4" height="2.6"/><ellipse cx="178.03" cy="764.1" rx="1.45" ry="1.45"/><rect x="181.75" y="764.8" width="3.8" height="1.2"/><rect x="182.95" y="764.8" width="1.4" height="2.6"/><ellipse cx="183.65" cy="767.4" rx="1.45" ry="1.45"/><rect x="187.38" y="762.3" width="3.8" height="1.2"/><rect x="188.58" y="762.3" width="1.4" height="2.6"/><ellipse cx="189.28" cy="764.9" rx="1.45" ry="1.45"/><rect x="193" y="760.7" width="3.8" height="1.2"/><rect x="194.2" y="760.7" width="1.4" height="2.6"/><ellipse cx="194.9" cy="763.3" rx="1.45" ry="1.45"/><rect x="198.62" y="759.2" width="3.8" height="1.2"/><rect x="199.83" y="759.2" width="1.4" height="2.6"/><ellipse cx="200.53" cy="761.8" rx="1.45" ry="1.45"/><rect x="204.25" y="758.2" width="3.8" height="1.2"/><rect x="205.45" y="758.2" width="1.4" height="2.6"/><ellipse cx="206.15" cy="760.8" rx="1.45" ry="1.45"/><rect x="209.88" y="760.1" width="3.8" height="1.2"/><rect x="211.08" y="760.1" width="1.4" height="2.6"/><ellipse cx="211.78" cy="762.7" rx="1.45" ry="1.45"/><rect x="215.5" y="761.8" width="3.8" height="1.2"/><rect x="216.7" y="761.8" width="1.4" height="2.6"/><ellipse cx="217.4" cy="764.4" rx="1.45" ry="1.45"/><rect x="221.12" y="763.1" width="3.8" height="1.2"/><rect x="222.33" y="763.1" width="1.4" height="2.6"/><ellipse cx="223.03" cy="765.7" rx="1.45" ry="1.45"/><rect x="226.75" y="761.8" width="3.8" height="1.2"/><rect x="227.95" y="761.8" width="1.4" height="2.6"/><ellipse cx="228.65" cy="764.4" rx="1.45" ry="1.45"/><rect x="232.38" y="763.5" width="3.8" height="1.2"/><rect x="233.58" y="763.5" width="1.4" height="2.6"/><ellipse cx="234.28" cy="766.1" rx="1.45" ry="1.45"/><rect x="238" y="759.7" width="3.8" height="1.2"/><rect x="239.2" y="759.7" width="1.4" height="2.6"/><ellipse cx="239.9" cy="762.3" rx="1.45" ry="1.45"/><rect x="243.62" y="761.8" width="3.8" height="1.2"/><rect x="244.83" y="761.8" width="1.4" height="2.6"/><ellipse cx="245.53" cy="764.4" rx="1.45" ry="1.45"/><rect x="249.25" y="761.2" width="3.8" height="1.2"/><rect x="250.45" y="761.2" width="1.4" height="2.6"/><ellipse cx="251.15" cy="763.8" rx="1.45" ry="1.45"/><rect x="254.87" y="760" width="3.8" height="1.2"/><rect x="256.07" y="760" width="1.4" height="2.6"/><ellipse cx="256.77" cy="762.6" rx="1.45" ry="1.45"/><rect x="260.5" y="760.7" width="3.8" height="1.2"/><rect x="261.7" y="760.7" width="1.4" height="2.6"/><ellipse cx="262.4" cy="763.3" rx="1.45" ry="1.45"/><rect x="266.12" y="761" width="3.8" height="1.2"/><rect x="267.32" y="761" width="1.4" height="2.6"/><ellipse cx="268.02" cy="763.6" rx="1.45" ry="1.45"/><rect x="271.75" y="758.2" width="3.8" height="1.2"/><rect x="272.95" y="758.2" width="1.4" height="2.6"/><ellipse cx="273.65" cy="760.8" rx="1.45" ry="1.45"/><rect x="277.38" y="763.2" width="3.8" height="1.2"/><rect x="278.57" y="763.2" width="1.4" height="2.6"/><ellipse cx="279.27" cy="765.8" rx="1.45" ry="1.45"/><rect x="283" y="762.1" width="3.8" height="1.2"/><rect x="284.2" y="762.1" width="1.4" height="2.6"/><ellipse cx="284.9" cy="764.7" rx="1.45" ry="1.45"/><rect x="288.62" y="763.8" width="3.8" height="1.2"/><rect x="289.82" y="763.8" width="1.4" height="2.6"/><ellipse cx="290.52" cy="766.4" rx="1.45" ry="1.45"/><rect x="294.25" y="761.8" width="3.8" height="1.2"/><rect x="295.45" y="761.8" width="1.4" height="2.6"/><ellipse cx="296.15" cy="764.4" rx="1.45" ry="1.45"/><rect x="299.88" y="760.2" width="3.8" height="1.2"/><rect x="301.07" y="760.2" width="1.4" height="2.6"/><ellipse cx="301.77" cy="762.8" rx="1.45" ry="1.45"/><rect x="305.5" y="762.1" width="3.8" height="1.2"/><rect x="306.7" y="762.1" width="1.4" height="2.6"/><ellipse cx="307.4" cy="764.7" rx="1.45" ry="1.45"/><rect x="311.12" y="760.7" width="3.8" height="1.2"/><rect x="312.32" y="760.7" width="1.4" height="2.6"/><ellipse cx="313.02" cy="763.3" rx="1.45" ry="1.45"/><rect x="316.75" y="761" width="3.8" height="1.2"/><rect x="317.95" y="761" width="1.4" height="2.6"/><ellipse cx="318.65" cy="763.6" rx="1.45" ry="1.45"/><rect x="322.38" y="762.3" width="3.8" height="1.2"/><rect x="323.57" y="762.3" width="1.4" height="2.6"/><ellipse cx="324.27" cy="764.9" rx="1.45" ry="1.45"/><rect x="328" y="760" width="3.8" height="1.2"/><rect x="329.2" y="760" width="1.4" height="2.6"/><ellipse cx="329.9" cy="762.6" rx="1.45" ry="1.45"/><rect x="333.62" y="760.7" width="3.8" height="1.2"/><rect x="334.82" y="760.7" width="1.4" height="2.6"/><ellipse cx="335.52" cy="763.3" rx="1.45" ry="1.45"/><rect x="339.25" y="761.5" width="3.8" height="1.2"/><rect x="340.45" y="761.5" width="1.4" height="2.6"/><ellipse cx="341.15" cy="764.1" rx="1.45" ry="1.45"/><rect x="344.88" y="762.8" width="3.8" height="1.2"/><rect x="346.07" y="762.8" width="1.4" height="2.6"/><ellipse cx="346.77" cy="765.4" rx="1.45" ry="1.45"/><rect x="350.5" y="761.2" width="3.8" height="1.2"/><rect x="351.7" y="761.2" width="1.4" height="2.6"/><ellipse cx="352.4" cy="763.8" rx="1.45" ry="1.45"/><rect x="356.12" y="761.5" width="3.8" height="1.2"/><rect x="357.32" y="761.5" width="1.4" height="2.6"/><ellipse cx="358.02" cy="764.1" rx="1.45" ry="1.45"/><rect x="361.75" y="763.3" width="3.8" height="1.2"/><rect x="362.95" y="763.3" width="1.4" height="2.6"/><ellipse cx="363.65" cy="765.9" rx="1.45" ry="1.45"/><rect x="367.38" y="758.2" width="3.8" height="1.2"/><rect x="368.57" y="758.2" width="1.4" height="2.6"/><ellipse cx="369.27" cy="760.8" rx="1.45" ry="1.45"/><rect x="373" y="761.8" width="3.8" height="1.2"/><rect x="374.2" y="761.8" width="1.4" height="2.6"/><ellipse cx="374.9" cy="764.4" rx="1.45" ry="1.45"/><rect x="378.62" y="763.8" width="3.8" height="1.2"/><rect x="379.82" y="763.8" width="1.4" height="2.6"/><ellipse cx="380.52" cy="766.4" rx="1.45" ry="1.45"/><rect x="384.25" y="763.8" width="3.8" height="1.2"/><rect x="385.45" y="763.8" width="1.4" height="2.6"/><ellipse cx="386.15" cy="766.4" rx="1.45" ry="1.45"/><rect x="389.88" y="759" width="3.8" height="1.2"/><rect x="391.07" y="759" width="1.4" height="2.6"/><ellipse cx="391.77" cy="761.6" rx="1.45" ry="1.45"/><rect x="395.5" y="758.2" width="3.8" height="1.2"/><rect x="396.7" y="758.2" width="1.4" height="2.6"/><ellipse cx="397.4" cy="760.8" rx="1.45" ry="1.45"/><rect x="401.12" y="764.8" width="3.8" height="1.2"/><rect x="402.32" y="764.8" width="1.4" height="2.6"/><ellipse cx="403.02" cy="767.4" rx="1.45" ry="1.45"/><rect x="406.75" y="760.9" width="3.8" height="1.2"/><rect x="407.95" y="760.9" width="1.4" height="2.6"/><ellipse cx="408.65" cy="763.5" rx="1.45" ry="1.45"/><rect x="412.38" y="761.8" width="3.8" height="1.2"/><rect x="413.57" y="761.8" width="1.4" height="2.6"/><ellipse cx="414.27" cy="764.4" rx="1.45" ry="1.45"/><rect x="418" y="760.2" width="3.8" height="1.2"/><rect x="419.2" y="760.2" width="1.4" height="2.6"/><ellipse cx="419.9" cy="762.8" rx="1.45" ry="1.45"/><rect x="423.62" y="759.4" width="3.8" height="1.2"/><rect x="424.82" y="759.4" width="1.4" height="2.6"/><ellipse cx="425.52" cy="762" rx="1.45" ry="1.45"/><rect x="429.25" y="760.4" width="3.8" height="1.2"/><rect x="430.45" y="760.4" width="1.4" height="2.6"/><ellipse cx="431.15" cy="763" rx="1.45" ry="1.45"/><rect x="434.88" y="759.2" width="3.8" height="1.2"/><rect x="436.07" y="759.2" width="1.4" height="2.6"/><ellipse cx="436.77" cy="761.8" rx="1.45" ry="1.45"/><rect x="440.5" y="761.2" width="3.8" height="1.2"/><rect x="441.7" y="761.2" width="1.4" height="2.6"/><ellipse cx="442.4" cy="763.8" rx="1.45" ry="1.45"/><rect x="446.12" y="755.9" width="3.8" height="1.2"/><rect x="447.32" y="755.9" width="1.4" height="2.6"/><ellipse cx="448.02" cy="758.5" rx="1.45" ry="1.45"/><rect x="451.75" y="759.2" width="3.8" height="1.2"/><rect x="452.95" y="759.2" width="1.4" height="2.6"/><ellipse cx="453.65" cy="761.8" rx="1.45" ry="1.45"/><rect x="457.38" y="761.2" width="3.8" height="1.2"/><rect x="458.57" y="761.2" width="1.4" height="2.6"/><ellipse cx="459.27" cy="763.8" rx="1.45" ry="1.45"/><rect x="463" y="762.1" width="3.8" height="1.2"/><rect x="464.2" y="762.1" width="1.4" height="2.6"/><ellipse cx="464.9" cy="764.7" rx="1.45" ry="1.45"/><rect x="468.62" y="758.4" width="3.8" height="1.2"/><rect x="469.82" y="758.4" width="1.4" height="2.6"/><ellipse cx="470.52" cy="761" rx="1.45" ry="1.45"/><rect x="474.25" y="760.7" width="3.8" height="1.2"/><rect x="475.45" y="760.7" width="1.4" height="2.6"/><ellipse cx="476.15" cy="763.3" rx="1.45" ry="1.45"/><rect x="479.88" y="757.7" width="3.8" height="1.2"/><rect x="481.07" y="757.7" width="1.4" height="2.6"/><ellipse cx="481.77" cy="760.3" rx="1.45" ry="1.45"/><rect x="485.5" y="759.2" width="3.8" height="1.2"/><rect x="486.7" y="759.2" width="1.4" height="2.6"/><ellipse cx="487.4" cy="761.8" rx="1.45" ry="1.45"/><rect x="491.12" y="760" width="3.8" height="1.2"/><rect x="492.32" y="760" width="1.4" height="2.6"/><ellipse cx="493.02" cy="762.6" rx="1.45" ry="1.45"/><rect x="496.75" y="759.2" width="3.8" height="1.2"/><rect x="497.95" y="759.2" width="1.4" height="2.6"/><ellipse cx="498.65" cy="761.8" rx="1.45" ry="1.45"/><rect x="502.38" y="758.7" width="3.8" height="1.2"/><rect x="503.57" y="758.7" width="1.4" height="2.6"/><ellipse cx="504.27" cy="761.3" rx="1.45" ry="1.45"/><rect x="508" y="762.8" width="3.8" height="1.2"/><rect x="509.2" y="762.8" width="1.4" height="2.6"/><ellipse cx="509.9" cy="765.4" rx="1.45" ry="1.45"/><rect x="513.62" y="761.8" width="3.8" height="1.2"/><rect x="514.82" y="761.8" width="1.4" height="2.6"/><ellipse cx="515.52" cy="764.4" rx="1.45" ry="1.45"/><rect x="519.25" y="760.2" width="3.8" height="1.2"/><rect x="520.45" y="760.2" width="1.4" height="2.6"/><ellipse cx="521.15" cy="762.8" rx="1.45" ry="1.45"/><rect x="524.88" y="760.2" width="3.8" height="1.2"/><rect x="526.07" y="760.2" width="1.4" height="2.6"/><ellipse cx="526.77" cy="762.8" rx="1.45" ry="1.45"/><rect x="530.5" y="760.2" width="3.8" height="1.2"/><rect x="531.7" y="760.2" width="1.4" height="2.6"/><ellipse cx="532.4" cy="762.8" rx="1.45" ry="1.45"/><rect x="536.12" y="756.1" width="3.8" height="1.2"/><rect x="537.32" y="756.1" width="1.4" height="2.6"/><ellipse cx="538.02" cy="758.7" rx="1.45" ry="1.45"/><rect x="541.75" y="760.7" width="3.8" height="1.2"/><rect x="542.95" y="760.7" width="1.4" height="2.6"/><ellipse cx="543.65" cy="763.3" rx="1.45" ry="1.45"/><rect x="547.38" y="758.2" width="3.8" height="1.2"/><rect x="548.57" y="758.2" width="1.4" height="2.6"/><ellipse cx="549.27" cy="760.8" rx="1.45" ry="1.45"/><rect x="553" y="761.5" width="3.8" height="1.2"/><rect x="554.2" y="761.5" width="1.4" height="2.6"/><ellipse cx="554.9" cy="764.1" rx="1.45" ry="1.45"/><rect x="558.62" y="761.2" width="3.8" height="1.2"/><rect x="559.82" y="761.2" width="1.4" height="2.6"/><ellipse cx="560.52" cy="763.8" rx="1.45" ry="1.45"/><rect x="564.25" y="758.7" width="3.8" height="1.2"/><rect x="565.45" y="758.7" width="1.4" height="2.6"/><ellipse cx="566.15" cy="761.3" rx="1.45" ry="1.45"/><rect x="569.88" y="761.8" width="3.8" height="1.2"/><rect x="571.07" y="761.8" width="1.4" height="2.6"/><ellipse cx="571.77" cy="764.4" rx="1.45" ry="1.45"/><rect x="575.5" y="761.8" width="3.8" height="1.2"/><rect x="576.7" y="761.8" width="1.4" height="2.6"/><ellipse cx="577.4" cy="764.4" rx="1.45" ry="1.45"/><rect x="581.12" y="759" width="3.8" height="1.2"/><rect x="582.32" y="759" width="1.4" height="2.6"/><ellipse cx="583.02" cy="761.6" rx="1.45" ry="1.45"/><rect x="586.75" y="759.2" width="3.8" height="1.2"/><rect x="587.95" y="759.2" width="1.4" height="2.6"/><ellipse cx="588.65" cy="761.8" rx="1.45" ry="1.45"/><rect x="592.38" y="758.7" width="3.8" height="1.2"/><rect x="593.57" y="758.7" width="1.4" height="2.6"/><ellipse cx="594.27" cy="761.3" rx="1.45" ry="1.45"/><rect x="598" y="759.1" width="3.8" height="1.2"/><rect x="599.2" y="759.1" width="1.4" height="2.6"/><ellipse cx="599.9" cy="761.7" rx="1.45" ry="1.45"/><rect x="603.62" y="759" width="3.8" height="1.2"/><rect x="604.82" y="759" width="1.4" height="2.6"/><ellipse cx="605.52" cy="761.6" rx="1.45" ry="1.45"/><rect x="609.25" y="759.4" width="3.8" height="1.2"/><rect x="610.45" y="759.4" width="1.4" height="2.6"/><ellipse cx="611.15" cy="762" rx="1.45" ry="1.45"/><rect x="614.88" y="761.8" width="3.8" height="1.2"/><rect x="616.07" y="761.8" width="1.4" height="2.6"/><ellipse cx="616.77" cy="764.4" rx="1.45" ry="1.45"/><rect x="620.5" y="759" width="3.8" height="1.2"/><rect x="621.7" y="759" width="1.4" height="2.6"/><ellipse cx="622.4" cy="761.6" rx="1.45" ry="1.45"/><rect x="626.12" y="760.2" width="3.8" height="1.2"/><rect x="627.32" y="760.2" width="1.4" height="2.6"/><ellipse cx="628.02" cy="762.8" rx="1.45" ry="1.45"/><rect x="631.75" y="760.2" width="3.8" height="1.2"/><rect x="632.95" y="760.2" width="1.4" height="2.6"/><ellipse cx="633.65" cy="762.8" rx="1.45" ry="1.45"/><rect x="637.38" y="758.2" width="3.8" height="1.2"/><rect x="638.57" y="758.2" width="1.4" height="2.6"/><ellipse cx="639.27" cy="760.8" rx="1.45" ry="1.45"/><rect x="643" y="760.7" width="3.8" height="1.2"/><rect x="644.2" y="760.7" width="1.4" height="2.6"/><ellipse cx="644.9" cy="763.3" rx="1.45" ry="1.45"/><rect x="648.62" y="761.8" width="3.8" height="1.2"/><rect x="649.82" y="761.8" width="1.4" height="2.6"/><ellipse cx="650.52" cy="764.4" rx="1.45" ry="1.45"/><rect x="654.25" y="762.8" width="3.8" height="1.2"/><rect x="655.45" y="762.8" width="1.4" height="2.6"/><ellipse cx="656.15" cy="765.4" rx="1.45" ry="1.45"/><rect x="659.88" y="760.7" width="3.8" height="1.2"/><rect x="661.07" y="760.7" width="1.4" height="2.6"/><ellipse cx="661.77" cy="763.3" rx="1.45" ry="1.45"/></g>
<g fill="#f00"><rect x="103" y="717.8" width="3.8" height="1.3"/><rect x="103" y="724.6" width="3.8" height="1.3"/><rect x="104.15" y="717.8" width="1.5" height="8.1"/><ellipse cx="104.9" cy="721.85" rx="1.4" ry="1.6"/><rect x="108.62" y="751.5" width="3.8" height="1.3"/><rect x="108.62" y="758.3" width="3.8" height="1.3"/><rect x="109.78" y="751.5" width="1.5" height="8.1"/><ellipse cx="110.53" cy="755.55" rx="1.4" ry="1.6"/><rect x="114.25" y="765.2" width="3.8" height="1.3"/><rect x="114.25" y="772" width="3.8" height="1.3"/><rect x="115.4" y="765.2" width="1.5" height="8.1"/><ellipse cx="116.15" cy="769.25" rx="1.4" ry="1.6"/><rect x="119.88" y="776.8" width="3.8" height="1.3"/><rect x="119.88" y="783.6" width="3.8" height="1.3"/><rect x="121.03" y="776.8" width="1.5" height="8.1"/><ellipse cx="121.78" cy="780.85" rx="1.4" ry="1.6"/><rect x="125.5" y="785.9" width="3.8" height="1.3"/><rect x="125.5" y="792.7" width="3.8" height="1.3"/><rect x="126.65" y="785.9" width="1.5" height="8.1"/><ellipse cx="127.4" cy="789.95" rx="1.4" ry="1.6"/><rect x="131.12" y="784.9" width="3.8" height="1.3"/><rect x="131.12" y="791.7" width="3.8" height="1.3"/><rect x="132.28" y="784.9" width="1.5" height="8.1"/><ellipse cx="133.03" cy="788.95" rx="1.4" ry="1.6"/><rect x="136.75" y="782.6" width="3.8" height="1.3"/><rect x="136.75" y="789.4" width="3.8" height="1.3"/><rect x="137.9" y="782.6" width="1.5" height="8.1"/><ellipse cx="138.65" cy="786.65" rx="1.4" ry="1.6"/><rect x="142.38" y="786.7" width="3.8" height="1.3"/><rect x="142.38" y="793.5" width="3.8" height="1.3"/><rect x="143.53" y="786.7" width="1.5" height="8.1"/><ellipse cx="144.28" cy="790.75" rx="1.4" ry="1.6"/><rect x="148" y="786.1" width="3.8" height="1.3"/><rect x="148" y="792.9" width="3.8" height="1.3"/><rect x="149.15" y="786.1" width="1.5" height="8.1"/><ellipse cx="149.9" cy="790.15" rx="1.4" ry="1.6"/><rect x="153.62" y="788.2" width="3.8" height="1.3"/><rect x="153.62" y="795" width="3.8" height="1.3"/><rect x="154.78" y="788.2" width="1.5" height="8.1"/><ellipse cx="155.53" cy="792.25" rx="1.4" ry="1.6"/><rect x="159.25" y="784.8" width="3.8" height="1.3"/><rect x="159.25" y="791.6" width="3.8" height="1.3"/><rect x="160.4" y="784.8" width="1.5" height="8.1"/><ellipse cx="161.15" cy="788.85" rx="1.4" ry="1.6"/><rect x="164.88" y="790.1" width="3.8" height="1.3"/><rect x="164.88" y="796.9" width="3.8" height="1.3"/><rect x="166.03" y="790.1" width="1.5" height="8.1"/><ellipse cx="166.78" cy="794.15" rx="1.4" ry="1.6"/><rect x="170.5" y="784.2" width="3.8" height="1.3"/><rect x="170.5" y="791" width="3.8" height="1.3"/><rect x="171.65" y="784.2" width="1.5" height="8.1"/><ellipse cx="172.4" cy="788.25" rx="1.4" ry="1.6"/><rect x="176.12" y="778.1" width="3.8" height="1.3"/><rect x="176.12" y="784.9" width="3.8" height="1.3"/><rect x="177.28" y="778.1" width="1.5" height="8.1"/><ellipse cx="178.03" cy="782.15" rx="1.4" ry="1.6"/><rect x="181.75" y="780.2" width="3.8" height="1.3"/><rect x="181.75" y="787" width="3.8" height="1.3"/><rect x="182.9" y="780.2" width="1.5" height="8.1"/><ellipse cx="183.65" cy="784.25" rx="1.4" ry="1.6"/><rect x="187.38" y="789.4" width="3.8" height="1.3"/><rect x="187.38" y="796.2" width="3.8" height="1.3"/><rect x="188.53" y="789.4" width="1.5" height="8.1"/><ellipse cx="189.28" cy="793.45" rx="1.4" ry="1.6"/><rect x="193" y="789.4" width="3.8" height="1.3"/><rect x="193" y="796.2" width="3.8" height="1.3"/><rect x="194.15" y="789.4" width="1.5" height="8.1"/><ellipse cx="194.9" cy="793.45" rx="1.4" ry="1.6"/><rect x="198.62" y="784" width="3.8" height="1.3"/><rect x="198.62" y="790.8" width="3.8" height="1.3"/><rect x="199.78" y="784" width="1.5" height="8.1"/><ellipse cx="200.53" cy="788.05" rx="1.4" ry="1.6"/><rect x="204.25" y="787.8" width="3.8" height="1.3"/><rect x="204.25" y="794.6" width="3.8" height="1.3"/><rect x="205.4" y="787.8" width="1.5" height="8.1"/><ellipse cx="206.15" cy="791.85" rx="1.4" ry="1.6"/><rect x="209.88" y="785.1" width="3.8" height="1.3"/><rect x="209.88" y="791.9" width="3.8" height="1.3"/><rect x="211.03" y="785.1" width="1.5" height="8.1"/><ellipse cx="211.78" cy="789.15" rx="1.4" ry="1.6"/><rect x="215.5" y="782.7" width="3.8" height="1.3"/><rect x="215.5" y="789.5" width="3.8" height="1.3"/><rect x="216.65" y="782.7" width="1.5" height="8.1"/><ellipse cx="217.4" cy="786.75" rx="1.4" ry="1.6"/><rect x="221.12" y="787" width="3.8" height="1.3"/><rect x="221.12" y="793.8" width="3.8" height="1.3"/><rect x="222.28" y="787" width="1.5" height="8.1"/><ellipse cx="223.03" cy="791.05" rx="1.4" ry="1.6"/><rect x="226.75" y="786.6" width="3.8" height="1.3"/><rect x="226.75" y="793.4" width="3.8" height="1.3"/><rect x="227.9" y="786.6" width="1.5" height="8.1"/><ellipse cx="228.65" cy="790.65" rx="1.4" ry="1.6"/><rect x="232.38" y="787.6" width="3.8" height="1.3"/><rect x="232.38" y="794.4" width="3.8" height="1.3"/><rect x="233.53" y="787.6" width="1.5" height="8.1"/><ellipse cx="234.28" cy="791.65" rx="1.4" ry="1.6"/><rect x="238" y="786.8" width="3.8" height="1.3"/><rect x="238" y="793.6" width="3.8" height="1.3"/><rect x="239.15" y="786.8" width="1.5" height="8.1"/><ellipse cx="239.9" cy="790.85" rx="1.4" ry="1.6"/><rect x="243.62" y="790.9" width="3.8" height="1.3"/><rect x="243.62" y="797.7" width="3.8" height="1.3"/><rect x="244.78" y="790.9" width="1.5" height="8.1"/><ellipse cx="245.53" cy="794.95" rx="1.4" ry="1.6"/><rect x="249.25" y="789.4" width="3.8" height="1.3"/><rect x="249.25" y="796.2" width="3.8" height="1.3"/><rect x="250.4" y="789.4" width="1.5" height="8.1"/><ellipse cx="251.15" cy="793.45" rx="1.4" ry="1.6"/><rect x="254.87" y="788.3" width="3.8" height="1.3"/><rect x="254.87" y="795.1" width="3.8" height="1.3"/><rect x="256.02" y="788.3" width="1.5" height="8.1"/><ellipse cx="256.77" cy="792.35" rx="1.4" ry="1.6"/><rect x="260.5" y="784.2" width="3.8" height="1.3"/><rect x="260.5" y="791" width="3.8" height="1.3"/><rect x="261.65" y="784.2" width="1.5" height="8.1"/><ellipse cx="262.4" cy="788.25" rx="1.4" ry="1.6"/><rect x="266.12" y="787.3" width="3.8" height="1.3"/><rect x="266.12" y="794.1" width="3.8" height="1.3"/><rect x="267.27" y="787.3" width="1.5" height="8.1"/><ellipse cx="268.02" cy="791.35" rx="1.4" ry="1.6"/><rect x="271.75" y="784.8" width="3.8" height="1.3"/><rect x="271.75" y="791.6" width="3.8" height="1.3"/><rect x="272.9" y="784.8" width="1.5" height="8.1"/><ellipse cx="273.65" cy="788.85" rx="1.4" ry="1.6"/><rect x="277.38" y="789.4" width="3.8" height="1.3"/><rect x="277.38" y="796.2" width="3.8" height="1.3"/><rect x="278.52" y="789.4" width="1.5" height="8.1"/><ellipse cx="279.27" cy="793.45" rx="1.4" ry="1.6"/><rect x="283" y="786.3" width="3.8" height="1.3"/><rect x="283" y="793.1" width="3.8" height="1.3"/><rect x="284.15" y="786.3" width="1.5" height="8.1"/><ellipse cx="284.9" cy="790.35" rx="1.4" ry="1.6"/><rect x="288.62" y="786.6" width="3.8" height="1.3"/><rect x="288.62" y="793.4" width="3.8" height="1.3"/><rect x="289.77" y="786.6" width="1.5" height="8.1"/><ellipse cx="290.52" cy="790.65" rx="1.4" ry="1.6"/><rect x="294.25" y="784" width="3.8" height="1.3"/><rect x="294.25" y="790.8" width="3.8" height="1.3"/><rect x="295.4" y="784" width="1.5" height="8.1"/><ellipse cx="296.15" cy="788.05" rx="1.4" ry="1.6"/><rect x="299.88" y="781.9" width="3.8" height="1.3"/><rect x="299.88" y="788.7" width="3.8" height="1.3"/><rect x="301.02" y="781.9" width="1.5" height="8.1"/><ellipse cx="301.77" cy="785.95" rx="1.4" ry="1.6"/><rect x="305.5" y="786.6" width="3.8" height="1.3"/><rect x="305.5" y="793.4" width="3.8" height="1.3"/><rect x="306.65" y="786.6" width="1.5" height="8.1"/><ellipse cx="307.4" cy="790.65" rx="1.4" ry="1.6"/><rect x="311.12" y="790.1" width="3.8" height="1.3"/><rect x="311.12" y="796.9" width="3.8" height="1.3"/><rect x="312.27" y="790.1" width="1.5" height="8.1"/><ellipse cx="313.02" cy="794.15" rx="1.4" ry="1.6"/><rect x="316.75" y="796.5" width="3.8" height="1.3"/><rect x="316.75" y="803.3" width="3.8" height="1.3"/><rect x="317.9" y="796.5" width="1.5" height="8.1"/><ellipse cx="318.65" cy="800.55" rx="1.4" ry="1.6"/><rect x="322.38" y="794.8" width="3.8" height="1.3"/><rect x="322.38" y="801.6" width="3.8" height="1.3"/><rect x="323.52" y="794.8" width="1.5" height="8.1"/><ellipse cx="324.27" cy="798.85" rx="1.4" ry="1.6"/><rect x="328" y="792.9" width="3.8" height="1.3"/><rect x="328" y="799.7" width="3.8" height="1.3"/><rect x="329.15" y="792.9" width="1.5" height="8.1"/><ellipse cx="329.9" cy="796.95" rx="1.4" ry="1.6"/><rect x="333.62" y="781.9" width="3.8" height="1.3"/><rect x="333.62" y="788.7" width="3.8" height="1.3"/><rect x="334.77" y="781.9" width="1.5" height="8.1"/><ellipse cx="335.52" cy="785.95" rx="1.4" ry="1.6"/><rect x="339.25" y="794.5" width="3.8" height="1.3"/><rect x="339.25" y="801.3" width="3.8" height="1.3"/><rect x="340.4" y="794.5" width="1.5" height="8.1"/><ellipse cx="341.15" cy="798.55" rx="1.4" ry="1.6"/><rect x="344.88" y="779.6" width="3.8" height="1.3"/><rect x="344.88" y="786.4" width="3.8" height="1.3"/><rect x="346.02" y="779.6" width="1.5" height="8.1"/><ellipse cx="346.77" cy="783.65" rx="1.4" ry="1.6"/><rect x="350.5" y="781.9" width="3.8" height="1.3"/><rect x="350.5" y="788.7" width="3.8" height="1.3"/><rect x="351.65" y="781.9" width="1.5" height="8.1"/><ellipse cx="352.4" cy="785.95" rx="1.4" ry="1.6"/><rect x="356.12" y="790.4" width="3.8" height="1.3"/><rect x="356.12" y="797.2" width="3.8" height="1.3"/><rect x="357.27" y="790.4" width="1.5" height="8.1"/><ellipse cx="358.02" cy="794.45" rx="1.4" ry="1.6"/><rect x="361.75" y="790.2" width="3.8" height="1.3"/><rect x="361.75" y="797" width="3.8" height="1.3"/><rect x="362.9" y="790.2" width="1.5" height="8.1"/><ellipse cx="363.65" cy="794.25" rx="1.4" ry="1.6"/><rect x="367.38" y="791.9" width="3.8" height="1.3"/><rect x="367.38" y="798.7" width="3.8" height="1.3"/><rect x="368.52" y="791.9" width="1.5" height="8.1"/><ellipse cx="369.27" cy="795.95" rx="1.4" ry="1.6"/><rect x="373" y="781.2" width="3.8" height="1.3"/><rect x="373" y="788" width="3.8" height="1.3"/><rect x="374.15" y="781.2" width="1.5" height="8.1"/><ellipse cx="374.9" cy="785.25" rx="1.4" ry="1.6"/><rect x="378.62" y="786.1" width="3.8" height="1.3"/><rect x="378.62" y="792.9" width="3.8" height="1.3"/><rect x="379.77" y="786.1" width="1.5" height="8.1"/><ellipse cx="380.52" cy="790.15" rx="1.4" ry="1.6"/><rect x="384.25" y="789.9" width="3.8" height="1.3"/><rect x="384.25" y="796.7" width="3.8" height="1.3"/><rect x="385.4" y="789.9" width="1.5" height="8.1"/><ellipse cx="386.15" cy="793.95" rx="1.4" ry="1.6"/><rect x="389.88" y="792.9" width="3.8" height="1.3"/><rect x="389.88" y="799.7" width="3.8" height="1.3"/><rect x="391.02" y="792.9" width="1.5" height="8.1"/><ellipse cx="391.77" cy="796.95" rx="1.4" ry="1.6"/><rect x="395.5" y="782.2" width="3.8" height="1.3"/><rect x="395.5" y="789" width="3.8" height="1.3"/><rect x="396.65" y="782.2" width="1.5" height="8.1"/><ellipse cx="397.4" cy="786.25" rx="1.4" ry="1.6"/><rect x="401.12" y="784.5" width="3.8" height="1.3"/><rect x="401.12" y="791.3" width="3.8" height="1.3"/><rect x="402.27" y="784.5" width="1.5" height="8.1"/><ellipse cx="403.02" cy="788.55" rx="1.4" ry="1.6"/><rect x="406.75" y="786" width="3.8" height="1.3"/><rect x="406.75" y="792.8" width="3.8" height="1.3"/><rect x="407.9" y="786" width="1.5" height="8.1"/><ellipse cx="408.65" cy="790.05" rx="1.4" ry="1.6"/><rect x="412.38" y="790.9" width="3.8" height="1.3"/><rect x="412.38" y="797.7" width="3.8" height="1.3"/><rect x="413.52" y="790.9" width="1.5" height="8.1"/><ellipse cx="414.27" cy="794.95" rx="1.4" ry="1.6"/><rect x="418" y="789.9" width="3.8" height="1.3"/><rect x="418" y="796.7" width="3.8" height="1.3"/><rect x="419.15" y="789.9" width="1.5" height="8.1"/><ellipse cx="419.9" cy="793.95" rx="1.4" ry="1.6"/><rect x="423.62" y="776.1" width="3.8" height="1.3"/><rect x="423.62" y="782.9" width="3.8" height="1.3"/><rect x="424.77" y="776.1" width="1.5" height="8.1"/><ellipse cx="425.52" cy="780.15" rx="1.4" ry="1.6"/><rect x="429.25" y="788" width="3.8" height="1.3"/><rect x="429.25" y="794.8" width="3.8" height="1.3"/><rect x="430.4" y="788" width="1.5" height="8.1"/><ellipse cx="431.15" cy="792.05" rx="1.4" ry="1.6"/><rect x="434.88" y="783.2" width="3.8" height="1.3"/><rect x="434.88" y="790" width="3.8" height="1.3"/><rect x="436.02" y="783.2" width="1.5" height="8.1"/><ellipse cx="436.77" cy="787.25" rx="1.4" ry="1.6"/><rect x="440.5" y="793.7" width="3.8" height="1.3"/><rect x="440.5" y="800.5" width="3.8" height="1.3"/><rect x="441.65" y="793.7" width="1.5" height="8.1"/><ellipse cx="442.4" cy="797.75" rx="1.4" ry="1.6"/><rect x="446.12" y="792.1" width="3.8" height="1.3"/><rect x="446.12" y="798.9" width="3.8" height="1.3"/><rect x="447.27" y="792.1" width="1.5" height="8.1"/><ellipse cx="448.02" cy="796.15" rx="1.4" ry="1.6"/><rect x="451.75" y="786.3" width="3.8" height="1.3"/><rect x="451.75" y="793.1" width="3.8" height="1.3"/><rect x="452.9" y="786.3" width="1.5" height="8.1"/><ellipse cx="453.65" cy="790.35" rx="1.4" ry="1.6"/><rect x="457.38" y="789.7" width="3.8" height="1.3"/><rect x="457.38" y="796.5" width="3.8" height="1.3"/><rect x="458.52" y="789.7" width="1.5" height="8.1"/><ellipse cx="459.27" cy="793.75" rx="1.4" ry="1.6"/><rect x="463" y="786" width="3.8" height="1.3"/><rect x="463" y="792.8" width="3.8" height="1.3"/><rect x="464.15" y="786" width="1.5" height="8.1"/><ellipse cx="464.9" cy="790.05" rx="1.4" ry="1.6"/><rect x="468.62" y="784.2" width="3.8" height="1.3"/><rect x="468.62" y="791" width="3.8" height="1.3"/><rect x="469.77" y="784.2" width="1.5" height="8.1"/><ellipse cx="470.52" cy="788.25" rx="1.4" ry="1.6"/><rect x="474.25" y="784.2" width="3.8" height="1.3"/><rect x="474.25" y="791" width="3.8" height="1.3"/><rect x="475.4" y="784.2" width="1.5" height="8.1"/><ellipse cx="476.15" cy="788.25" rx="1.4" ry="1.6"/><rect x="479.88" y="785" width="3.8" height="1.3"/><rect x="479.88" y="791.8" width="3.8" height="1.3"/><rect x="481.02" y="785" width="1.5" height="8.1"/><ellipse cx="481.77" cy="789.05" rx="1.4" ry="1.6"/><rect x="485.5" y="787.8" width="3.8" height="1.3"/><rect x="485.5" y="794.6" width="3.8" height="1.3"/><rect x="486.65" y="787.8" width="1.5" height="8.1"/><ellipse cx="487.4" cy="791.85" rx="1.4" ry="1.6"/><rect x="491.12" y="792.9" width="3.8" height="1.3"/><rect x="491.12" y="799.7" width="3.8" height="1.3"/><rect x="492.27" y="792.9" width="1.5" height="8.1"/><ellipse cx="493.02" cy="796.95" rx="1.4" ry="1.6"/><rect x="496.75" y="788.3" width="3.8" height="1.3"/><rect x="496.75" y="795.1" width="3.8" height="1.3"/><rect x="497.9" y="788.3" width="1.5" height="8.1"/><ellipse cx="498.65" cy="792.35" rx="1.4" ry="1.6"/><rect x="502.38" y="782.9" width="3.8" height="1.3"/><rect x="502.38" y="789.7" width="3.8" height="1.3"/><rect x="503.52" y="782.9" width="1.5" height="8.1"/><ellipse cx="504.27" cy="786.95" rx="1.4" ry="1.6"/><rect x="508" y="789.9" width="3.8" height="1.3"/><rect x="508" y="796.7" width="3.8" height="1.3"/><rect x="509.15" y="789.9" width="1.5" height="8.1"/><ellipse cx="509.9" cy="793.95" rx="1.4" ry="1.6"/><rect x="513.62" y="785" width="3.8" height="1.3"/><rect x="513.62" y="791.8" width="3.8" height="1.3"/><rect x="514.77" y="785" width="1.5" height="8.1"/><ellipse cx="515.52" cy="789.05" rx="1.4" ry="1.6"/><rect x="519.25" y="786.3" width="3.8" height="1.3"/><rect x="519.25" y="793.1" width="3.8" height="1.3"/><rect x="520.4" y="786.3" width="1.5" height="8.1"/><ellipse cx="521.15" cy="790.35" rx="1.4" ry="1.6"/><rect x="524.88" y="788" width="3.8" height="1.3"/><rect x="524.88" y="794.8" width="3.8" height="1.3"/><rect x="526.02" y="788" width="1.5" height="8.1"/><ellipse cx="526.77" cy="792.05" rx="1.4" ry="1.6"/><rect x="530.5" y="789.4" width="3.8" height="1.3"/><rect x="530.5" y="796.2" width="3.8" height="1.3"/><rect x="531.65" y="789.4" width="1.5" height="8.1"/><ellipse cx="532.4" cy="793.45" rx="1.4" ry="1.6"/><rect x="536.12" y="779.4" width="3.8" height="1.3"/><rect x="536.12" y="786.2" width="3.8" height="1.3"/><rect x="537.27" y="779.4" width="1.5" height="8.1"/><ellipse cx="538.02" cy="783.45" rx="1.4" ry="1.6"/><rect x="541.75" y="788.3" width="3.8" height="1.3"/><rect x="541.75" y="795.1" width="3.8" height="1.3"/><rect x="542.9" y="788.3" width="1.5" height="8.1"/><ellipse cx="543.65" cy="792.35" rx="1.4" ry="1.6"/><rect x="547.38" y="783.2" width="3.8" height="1.3"/><rect x="547.38" y="790" width="3.8" height="1.3"/><rect x="548.52" y="783.2" width="1.5" height="8.1"/><ellipse cx="549.27" cy="787.25" rx="1.4" ry="1.6"/><rect x="553" y="789" width="3.8" height="1.3"/><rect x="553" y="795.8" width="3.8" height="1.3"/><rect x="554.15" y="789" width="1.5" height="8.1"/><ellipse cx="554.9" cy="793.05" rx="1.4" ry="1.6"/><rect x="558.62" y="795" width="3.8" height="1.3"/><rect x="558.62" y="801.8" width="3.8" height="1.3"/><rect x="559.77" y="795" width="1.5" height="8.1"/><ellipse cx="560.52" cy="799.05" rx="1.4" ry="1.6"/><rect x="564.25" y="784.8" width="3.8" height="1.3"/><rect x="564.25" y="791.6" width="3.8" height="1.3"/><rect x="565.4" y="784.8" width="1.5" height="8.1"/><ellipse cx="566.15" cy="788.85" rx="1.4" ry="1.6"/><rect x="569.88" y="787.8" width="3.8" height="1.3"/><rect x="569.88" y="794.6" width="3.8" height="1.3"/><rect x="571.02" y="787.8" width="1.5" height="8.1"/><ellipse cx="571.77" cy="791.85" rx="1.4" ry="1.6"/><rect x="575.5" y="786.3" width="3.8" height="1.3"/><rect x="575.5" y="793.1" width="3.8" height="1.3"/><rect x="576.65" y="786.3" width="1.5" height="8.1"/><ellipse cx="577.4" cy="790.35" rx="1.4" ry="1.6"/><rect x="581.12" y="791.4" width="3.8" height="1.3"/><rect x="581.12" y="798.2" width="3.8" height="1.3"/><rect x="582.27" y="791.4" width="1.5" height="8.1"/><ellipse cx="583.02" cy="795.45" rx="1.4" ry="1.6"/><rect x="586.75" y="788.3" width="3.8" height="1.3"/><rect x="586.75" y="795.1" width="3.8" height="1.3"/><rect x="587.9" y="788.3" width="1.5" height="8.1"/><ellipse cx="588.65" cy="792.35" rx="1.4" ry="1.6"/><rect x="592.38" y="783.5" width="3.8" height="1.3"/><rect x="592.38" y="790.3" width="3.8" height="1.3"/><rect x="593.52" y="783.5" width="1.5" height="8.1"/><ellipse cx="594.27" cy="787.55" rx="1.4" ry="1.6"/><rect x="598" y="785.7" width="3.8" height="1.3"/><rect x="598" y="792.5" width="3.8" height="1.3"/><rect x="599.15" y="785.7" width="1.5" height="8.1"/><ellipse cx="599.9" cy="789.75" rx="1.4" ry="1.6"/><rect x="603.62" y="780.2" width="3.8" height="1.3"/><rect x="603.62" y="787" width="3.8" height="1.3"/><rect x="604.77" y="780.2" width="1.5" height="8.1"/><ellipse cx="605.52" cy="784.25" rx="1.4" ry="1.6"/><rect x="609.25" y="785.3" width="3.8" height="1.3"/><rect x="609.25" y="792.1" width="3.8" height="1.3"/><rect x="610.4" y="785.3" width="1.5" height="8.1"/><ellipse cx="611.15" cy="789.35" rx="1.4" ry="1.6"/><rect x="614.88" y="786.1" width="3.8" height="1.3"/><rect x="614.88" y="792.9" width="3.8" height="1.3"/><rect x="616.02" y="786.1" width="1.5" height="8.1"/><ellipse cx="616.77" cy="790.15" rx="1.4" ry="1.6"/><rect x="620.5" y="780.7" width="3.8" height="1.3"/><rect x="620.5" y="787.5" width="3.8" height="1.3"/><rect x="621.65" y="780.7" width="1.5" height="8.1"/><ellipse cx="622.4" cy="784.75" rx="1.4" ry="1.6"/><rect x="626.12" y="790.2" width="3.8" height="1.3"/><rect x="626.12" y="797" width="3.8" height="1.3"/><rect x="627.27" y="790.2" width="1.5" height="8.1"/><ellipse cx="628.02" cy="794.25" rx="1.4" ry="1.6"/><rect x="631.75" y="786.3" width="3.8" height="1.3"/><rect x="631.75" y="793.1" width="3.8" height="1.3"/><rect x="632.9" y="786.3" width="1.5" height="8.1"/><ellipse cx="633.65" cy="790.35" rx="1.4" ry="1.6"/><rect x="637.38" y="788.1" width="3.8" height="1.3"/><rect x="637.38" y="794.9" width="3.8" height="1.3"/><rect x="638.52" y="788.1" width="1.5" height="8.1"/><ellipse cx="639.27" cy="792.15" rx="1.4" ry="1.6"/><rect x="643" y="783.2" width="3.8" height="1.3"/><rect x="643" y="790" width="3.8" height="1.3"/><rect x="644.15" y="783.2" width="1.5" height="8.1"/><ellipse cx="644.9" cy="787.25" rx="1.4" ry="1.6"/><rect x="648.62" y="785.6" width="3.8" height="1.3"/><rect x="648.62" y="792.4" width="3.8" height="1.3"/><rect x="649.77" y="785.6" width="1.5" height="8.1"/><ellipse cx="650.52" cy="789.65" rx="1.4" ry="1.6"/><rect x="654.25" y="782" width="3.8" height="1.3"/><rect x="654.25" y="788.8" width="3.8" height="1.3"/><rect x="655.4" y="782" width="1.5" height="8.1"/><ellipse cx="656.15" cy="786.05" rx="1.4" ry="1.6"/><rect x="659.88" y="787.6" width="3.8" height="1.3"/><rect x="659.88" y="794.4" width="3.8" height="1.3"/><rect x="661.02" y="787.6" width="1.5" height="8.1"/><ellipse cx="661.77" cy="791.65" rx="1.4" ry="1.6"/></g>
</svg>
</body></html>
